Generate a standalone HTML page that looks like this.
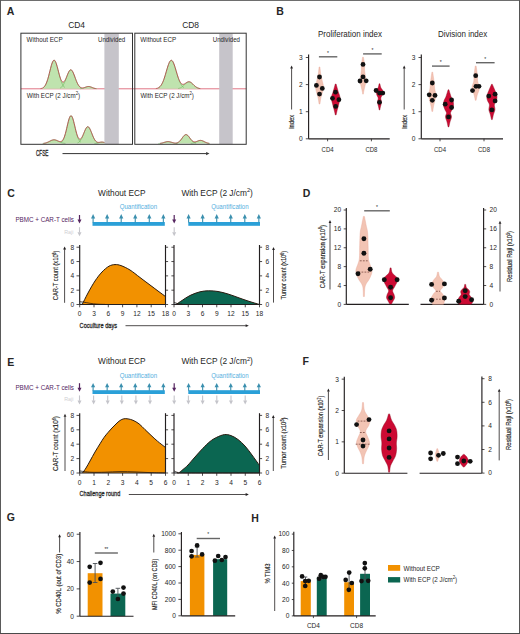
<!DOCTYPE html>
<html><head><meta charset="utf-8"><style>
html,body{margin:0;padding:0;background:#fff;}
svg{display:block;font-family:"Liberation Sans", sans-serif;}
</style></head><body>
<svg width="520" height="634" viewBox="0 0 520 634" fill="#262626">
<rect x="0" y="0" width="520" height="634" fill="#fff"/>
<text x="6.80" y="14.80" font-size="10.5" font-weight="bold" >A</text>
<text x="76.60" y="27.90" font-size="8.8" text-anchor="middle" textLength="16.9" lengthAdjust="spacingAndGlyphs" >CD4</text>
<text x="190.60" y="27.90" font-size="8.8" text-anchor="middle" textLength="16.9" lengthAdjust="spacingAndGlyphs" >CD8</text>
<line x1="20.90" y1="88.80" x2="246.20" y2="88.80" stroke="#e07585" stroke-width="1.0" />
<rect x="104.4" y="33.7" width="14.4" height="110.3" fill="#c6c4ca"/>
<rect x="219.2" y="33.7" width="13.5" height="110.3" fill="#c6c4ca"/>
<path d="M21.50,88.80 L21.50,88.80 L21.91,88.80 L22.33,88.80 L22.74,88.80 L23.16,88.80 L23.57,88.80 L23.99,88.80 L24.40,88.80 L24.82,88.80 L25.23,88.80 L25.64,88.80 L26.06,88.80 L26.47,88.80 L26.89,88.80 L27.30,88.80 L27.72,88.80 L28.13,88.80 L28.55,88.80 L28.96,88.80 L29.38,88.80 L29.79,88.80 L30.20,88.80 L30.62,88.80 L31.03,88.80 L31.45,88.80 L31.86,88.80 L32.28,88.80 L32.69,88.80 L33.11,88.80 L33.52,88.80 L33.94,88.80 L34.35,88.80 L34.76,88.80 L35.18,88.80 L35.59,88.80 L36.01,88.80 L36.42,88.79 L36.84,88.79 L37.25,88.79 L37.67,88.78 L38.08,88.77 L38.49,88.76 L38.91,88.74 L39.32,88.72 L39.74,88.69 L40.15,88.65 L40.57,88.60 L40.98,88.53 L41.40,88.44 L41.81,88.32 L42.23,88.17 L42.64,87.98 L43.05,87.74 L43.47,87.45 L43.88,87.10 L44.30,86.67 L44.71,86.16 L45.13,85.56 L45.54,84.86 L45.96,84.04 L46.37,83.12 L46.78,82.07 L47.20,80.91 L47.61,79.63 L48.03,78.25 L48.44,76.76 L48.86,75.20 L49.27,73.57 L49.69,71.91 L50.10,70.24 L50.52,68.60 L50.93,67.01 L51.34,65.51 L51.76,64.14 L52.17,62.93 L52.59,61.91 L53.00,61.11 L53.42,60.56 L53.83,60.25 L54.25,60.21 L54.66,60.43 L55.07,60.91 L55.49,61.63 L55.90,62.57 L56.32,63.71 L56.73,65.02 L57.15,66.45 L57.56,67.98 L57.98,69.57 L58.39,71.17 L58.81,72.76 L59.22,74.30 L59.63,75.75 L60.05,77.10 L60.46,78.31 L60.88,79.38 L61.29,80.27 L61.71,80.99 L62.12,81.53 L62.54,81.88 L62.95,82.05 L63.36,82.03 L63.78,81.83 L64.19,81.47 L64.61,80.95 L65.02,80.29 L65.44,79.51 L65.85,78.63 L66.27,77.67 L66.68,76.66 L67.09,75.63 L67.51,74.60 L67.92,73.61 L68.34,72.68 L68.75,71.84 L69.17,71.12 L69.58,70.54 L70.00,70.11 L70.41,69.86 L70.83,69.79 L71.24,69.89 L71.65,70.18 L72.07,70.64 L72.48,71.26 L72.90,72.03 L73.31,72.91 L73.73,73.90 L74.14,74.95 L74.56,76.06 L74.97,77.19 L75.38,78.33 L75.80,79.44 L76.21,80.52 L76.63,81.54 L77.04,82.50 L77.46,83.38 L77.87,84.18 L78.29,84.89 L78.70,85.53 L79.12,86.07 L79.53,86.54 L79.94,86.93 L80.36,87.24 L80.77,87.49 L81.19,87.68 L81.60,87.81 L82.02,87.89 L82.43,87.92 L82.85,87.91 L83.26,87.87 L83.67,87.79 L84.09,87.68 L84.50,87.55 L84.92,87.41 L85.33,87.26 L85.75,87.11 L86.16,86.96 L86.58,86.82 L86.99,86.70 L87.41,86.61 L87.82,86.54 L88.23,86.50 L88.65,86.50 L89.06,86.53 L89.48,86.59 L89.89,86.68 L90.31,86.80 L90.72,86.94 L91.14,87.10 L91.55,87.26 L91.97,87.43 L92.38,87.60 L92.79,87.76 L93.21,87.92 L93.62,88.06 L94.04,88.19 L94.45,88.30 L94.87,88.40 L95.28,88.49 L95.70,88.56 L96.11,88.61 L96.52,88.66 L96.94,88.69 L97.35,88.72 L97.77,88.74 L98.18,88.76 L98.60,88.77 L99.01,88.78 L99.43,88.79 L99.84,88.79 L100.26,88.79 L100.67,88.80 L101.08,88.80 L101.50,88.80 L101.91,88.80 L102.33,88.80 L102.74,88.80 L103.16,88.80 L103.57,88.80 L103.99,88.80 L104.40,88.80 L104.40,88.80 Z" fill="#bfe3ae" stroke="none"/>
<path d="M43.05,87.74 L43.47,87.45 L43.88,87.10 L44.30,86.67 L44.71,86.16 L45.13,85.56 L45.54,84.86 L45.96,84.04 L46.37,83.12 L46.78,82.07 L47.20,80.91 L47.61,79.63 L48.03,78.25 L48.44,76.76 L48.86,75.20 L49.27,73.57 L49.69,71.91 L50.10,70.24 L50.52,68.60 L50.93,67.01 L51.34,65.51 L51.76,64.14 L52.17,62.93 L52.59,61.92 L53.00,61.12 L53.42,60.56 L53.83,60.26 L54.25,60.22 L54.66,60.44 L55.07,60.93 L55.49,61.65 L55.90,62.61 L56.32,63.76 L56.73,65.09 L57.15,66.55 L57.56,68.12 L57.98,69.75 L58.39,71.41 L58.81,73.08 L59.22,74.72 L59.63,76.31 L60.05,77.81 L60.46,79.23 L60.88,80.54 L61.29,81.74 L61.71,82.82 L62.12,83.78 L62.54,84.62 L62.95,85.36 L63.36,85.99 L63.78,86.53 L64.19,86.98 L64.61,87.36 L65.02,87.66" fill="none" stroke="#5fb050" stroke-width="0.5"/>
<path d="M60.05,88.08 L60.46,87.88 L60.88,87.63 L61.29,87.33 L61.71,86.98 L62.12,86.55 L62.54,86.06 L62.95,85.49 L63.36,84.84 L63.78,84.10 L64.19,83.29 L64.61,82.39 L65.02,81.42 L65.44,80.39 L65.85,79.31 L66.27,78.19 L66.68,77.06 L67.09,75.92 L67.51,74.82 L67.92,73.77 L68.34,72.80 L68.75,71.93 L69.17,71.18 L69.58,70.58 L70.00,70.14 L70.41,69.88 L70.83,69.80 L71.24,69.90 L71.65,70.19 L72.07,70.65 L72.48,71.27 L72.90,72.03 L73.31,72.91 L73.73,73.90 L74.14,74.95 L74.56,76.06 L74.97,77.19 L75.38,78.33 L75.80,79.44 L76.21,80.52 L76.63,81.55 L77.04,82.51 L77.46,83.39 L77.87,84.20 L78.29,84.92 L78.70,85.56 L79.12,86.12 L79.53,86.61 L79.94,87.02 L80.36,87.37 L80.77,87.67 L81.19,87.91 L81.60,88.10" fill="none" stroke="#5fb050" stroke-width="0.5"/>
<path d="M79.94,88.70 L80.36,88.67 L80.77,88.63 L81.19,88.57 L81.60,88.51 L82.02,88.43 L82.43,88.33 L82.85,88.22 L83.26,88.10 L83.67,87.96 L84.09,87.81 L84.50,87.65 L84.92,87.48 L85.33,87.31 L85.75,87.14 L86.16,86.98 L86.58,86.84 L86.99,86.72 L87.41,86.62 L87.82,86.55 L88.23,86.51 L88.65,86.50 L89.06,86.53 L89.48,86.59 L89.89,86.69 L90.31,86.80 L90.72,86.94 L91.14,87.10 L91.55,87.26 L91.97,87.43 L92.38,87.60 L92.79,87.76 L93.21,87.92 L93.62,88.06 L94.04,88.19 L94.45,88.30 L94.87,88.40 L95.28,88.49 L95.70,88.56 L96.11,88.61 L96.52,88.66 L96.94,88.69" fill="none" stroke="#5fb050" stroke-width="0.5"/>
<path d="M40.57,88.60 L40.98,88.53 L41.40,88.44 L41.81,88.32 L42.23,88.17 L42.64,87.98 L43.05,87.74 L43.47,87.45 L43.88,87.10 L44.30,86.67 L44.71,86.16 L45.13,85.56 L45.54,84.86 L45.96,84.04 L46.37,83.12 L46.78,82.07 L47.20,80.91 L47.61,79.63 L48.03,78.25 L48.44,76.76 L48.86,75.20 L49.27,73.57 L49.69,71.91 L50.10,70.24 L50.52,68.60 L50.93,67.01 L51.34,65.51 L51.76,64.14 L52.17,62.93 L52.59,61.91 L53.00,61.11 L53.42,60.56 L53.83,60.25 L54.25,60.21 L54.66,60.43 L55.07,60.91 L55.49,61.63 L55.90,62.57 L56.32,63.71 L56.73,65.02 L57.15,66.45 L57.56,67.98 L57.98,69.57 L58.39,71.17 L58.81,72.76 L59.22,74.30 L59.63,75.75 L60.05,77.10 L60.46,78.31 L60.88,79.38 L61.29,80.27 L61.71,80.99 L62.12,81.53 L62.54,81.88 L62.95,82.05 L63.36,82.03 L63.78,81.83 L64.19,81.47 L64.61,80.95 L65.02,80.29 L65.44,79.51 L65.85,78.63 L66.27,77.67 L66.68,76.66 L67.09,75.63 L67.51,74.60 L67.92,73.61 L68.34,72.68 L68.75,71.84 L69.17,71.12 L69.58,70.54 L70.00,70.11 L70.41,69.86 L70.83,69.79 L71.24,69.89 L71.65,70.18 L72.07,70.64 L72.48,71.26 L72.90,72.03 L73.31,72.91 L73.73,73.90 L74.14,74.95 L74.56,76.06 L74.97,77.19 L75.38,78.33 L75.80,79.44 L76.21,80.52 L76.63,81.54 L77.04,82.50 L77.46,83.38 L77.87,84.18 L78.29,84.89 L78.70,85.53 L79.12,86.07 L79.53,86.54 L79.94,86.93 L80.36,87.24 L80.77,87.49 L81.19,87.68 L81.60,87.81 L82.02,87.89 L82.43,87.92 L82.85,87.91 L83.26,87.87 L83.67,87.79 L84.09,87.68 L84.50,87.55 L84.92,87.41 L85.33,87.26 L85.75,87.11 L86.16,86.96 L86.58,86.82 L86.99,86.70 L87.41,86.61 L87.82,86.54 L88.23,86.50 L88.65,86.50 L89.06,86.53 L89.48,86.59 L89.89,86.68 L90.31,86.80 L90.72,86.94 L91.14,87.10 L91.55,87.26 L91.97,87.43 L92.38,87.60 L92.79,87.76 L93.21,87.92 L93.62,88.06 L94.04,88.19 L94.45,88.30 L94.87,88.40 L95.28,88.49 L95.70,88.56" fill="none" stroke="#b83a42" stroke-width="0.8"/>
<path d="M21.50,143.60 L21.50,143.60 L21.91,143.60 L22.33,143.60 L22.74,143.60 L23.16,143.60 L23.57,143.60 L23.99,143.60 L24.40,143.60 L24.82,143.60 L25.23,143.60 L25.64,143.60 L26.06,143.60 L26.47,143.60 L26.89,143.60 L27.30,143.60 L27.72,143.60 L28.13,143.60 L28.55,143.60 L28.96,143.60 L29.38,143.60 L29.79,143.60 L30.20,143.60 L30.62,143.60 L31.03,143.60 L31.45,143.60 L31.86,143.60 L32.28,143.60 L32.69,143.60 L33.11,143.60 L33.52,143.60 L33.94,143.60 L34.35,143.60 L34.76,143.60 L35.18,143.60 L35.59,143.60 L36.01,143.60 L36.42,143.60 L36.84,143.60 L37.25,143.60 L37.67,143.60 L38.08,143.59 L38.49,143.59 L38.91,143.59 L39.32,143.59 L39.74,143.58 L40.15,143.57 L40.57,143.56 L40.98,143.55 L41.40,143.54 L41.81,143.52 L42.23,143.49 L42.64,143.46 L43.05,143.43 L43.47,143.38 L43.88,143.33 L44.30,143.27 L44.71,143.19 L45.13,143.10 L45.54,143.00 L45.96,142.89 L46.37,142.76 L46.78,142.61 L47.20,142.45 L47.61,142.27 L48.03,142.09 L48.44,141.89 L48.86,141.68 L49.27,141.47 L49.69,141.25 L50.10,141.03 L50.52,140.82 L50.93,140.62 L51.34,140.43 L51.76,140.26 L52.17,140.11 L52.59,139.99 L53.00,139.90 L53.42,139.83 L53.83,139.80 L54.25,139.80 L54.66,139.84 L55.07,139.90 L55.49,140.00 L55.90,140.12 L56.32,140.27 L56.73,140.43 L57.15,140.61 L57.56,140.79 L57.98,140.97 L58.39,141.14 L58.81,141.30 L59.22,141.43 L59.63,141.53 L60.05,141.58 L60.46,141.58 L60.88,141.52 L61.29,141.38 L61.71,141.15 L62.12,140.82 L62.54,140.37 L62.95,139.81 L63.36,139.10 L63.78,138.25 L64.19,137.26 L64.61,136.11 L65.02,134.82 L65.44,133.38 L65.85,131.83 L66.27,130.17 L66.68,128.43 L67.09,126.65 L67.51,124.87 L67.92,123.13 L68.34,121.48 L68.75,119.95 L69.17,118.61 L69.58,117.48 L70.00,116.60 L70.41,116.01 L70.83,115.72 L71.24,115.75 L71.65,116.08 L72.07,116.72 L72.48,117.64 L72.90,118.80 L73.31,120.17 L73.73,121.72 L74.14,123.38 L74.56,125.12 L74.97,126.88 L75.38,128.63 L75.80,130.33 L76.21,131.93 L76.63,133.41 L77.04,134.75 L77.46,135.92 L77.87,136.92 L78.29,137.73 L78.70,138.36 L79.12,138.80 L79.53,139.05 L79.94,139.13 L80.36,139.04 L80.77,138.78 L81.19,138.37 L81.60,137.82 L82.02,137.14 L82.43,136.35 L82.85,135.47 L83.26,134.52 L83.67,133.53 L84.09,132.51 L84.50,131.50 L84.92,130.51 L85.33,129.59 L85.75,128.76 L86.16,128.04 L86.58,127.46 L86.99,127.04 L87.41,126.78 L87.82,126.70 L88.23,126.80 L88.65,127.08 L89.06,127.52 L89.48,128.12 L89.89,128.86 L90.31,129.71 L90.72,130.66 L91.14,131.66 L91.55,132.71 L91.97,133.77 L92.38,134.82 L92.79,135.83 L93.21,136.80 L93.62,137.71 L94.04,138.55 L94.45,139.30 L94.87,139.96 L95.28,140.54 L95.70,141.03 L96.11,141.43 L96.52,141.75 L96.94,142.00 L97.35,142.17 L97.77,142.29 L98.18,142.35 L98.60,142.37 L99.01,142.35 L99.43,142.31 L99.84,142.26 L100.26,142.20 L100.67,142.14 L101.08,142.10 L101.50,142.07 L101.91,142.07 L102.33,142.09 L102.74,142.13 L103.16,142.20 L103.57,142.29 L103.99,142.39 L104.40,142.51 L104.40,143.60 Z" fill="#bfe3ae" stroke="none"/>
<path d="M42.64,143.46 L43.05,143.43 L43.47,143.38 L43.88,143.33 L44.30,143.27 L44.71,143.19 L45.13,143.10 L45.54,143.00 L45.96,142.89 L46.37,142.76 L46.78,142.61 L47.20,142.45 L47.61,142.27 L48.03,142.09 L48.44,141.89 L48.86,141.68 L49.27,141.47 L49.69,141.25 L50.10,141.03 L50.52,140.82 L50.93,140.62 L51.34,140.43 L51.76,140.26 L52.17,140.11 L52.59,139.99 L53.00,139.90 L53.42,139.83 L53.83,139.80 L54.25,139.81 L54.66,139.84 L55.07,139.91 L55.49,140.01 L55.90,140.14 L56.32,140.29 L56.73,140.47 L57.15,140.66 L57.56,140.86 L57.98,141.07 L58.39,141.29 L58.81,141.51 L59.22,141.72 L59.63,141.93 L60.05,142.12 L60.46,142.31 L60.88,142.48 L61.29,142.64 L61.71,142.78 L62.12,142.91 L62.54,143.02 L62.95,143.12 L63.36,143.21 L63.78,143.28 L64.19,143.34 L64.61,143.39 L65.02,143.44 L65.44,143.47" fill="none" stroke="#5fb050" stroke-width="0.5"/>
<path d="M60.88,142.64 L61.29,142.34 L61.71,141.97 L62.12,141.51 L62.54,140.95 L62.95,140.29 L63.36,139.50 L63.78,138.57 L64.19,137.52 L64.61,136.32 L65.02,134.98 L65.44,133.51 L65.85,131.93 L66.27,130.24 L66.68,128.49 L67.09,126.70 L67.51,124.91 L67.92,123.16 L68.34,121.50 L68.75,119.97 L69.17,118.62 L69.58,117.48 L70.00,116.61 L70.41,116.02 L70.83,115.73 L71.24,115.75 L71.65,116.09 L72.07,116.73 L72.48,117.65 L72.90,118.82 L73.31,120.20 L73.73,121.75 L74.14,123.43 L74.56,125.19 L74.97,126.98 L75.38,128.77 L75.80,130.52 L76.21,132.18 L76.63,133.75 L77.04,135.20 L77.46,136.52 L77.87,137.69 L78.29,138.73 L78.70,139.63 L79.12,140.40 L79.53,141.05 L79.94,141.59 L80.36,142.03 L80.77,142.39" fill="none" stroke="#5fb050" stroke-width="0.5"/>
<path d="M77.46,143.00 L77.87,142.82 L78.29,142.60 L78.70,142.33 L79.12,142.00 L79.53,141.61 L79.94,141.14 L80.36,140.60 L80.77,139.99 L81.19,139.29 L81.60,138.51 L82.02,137.66 L82.43,136.73 L82.85,135.75 L83.26,134.72 L83.67,133.67 L84.09,132.61 L84.50,131.56 L84.92,130.56 L85.33,129.63 L85.75,128.78 L86.16,128.06 L86.58,127.47 L86.99,127.04 L87.41,126.78 L87.82,126.70 L88.23,126.80 L88.65,127.08 L89.06,127.52 L89.48,128.12 L89.89,128.86 L90.31,129.71 L90.72,130.66 L91.14,131.66 L91.55,132.71 L91.97,133.77 L92.38,134.82 L92.79,135.85 L93.21,136.83 L93.62,137.74 L94.04,138.59 L94.45,139.36 L94.87,140.05 L95.28,140.66 L95.70,141.19 L96.11,141.65 L96.52,142.03 L96.94,142.36 L97.35,142.62 L97.77,142.84 L98.18,143.02" fill="none" stroke="#5fb050" stroke-width="0.5"/>
<path d="M94.45,143.54 L94.87,143.51 L95.28,143.48 L95.70,143.44 L96.11,143.38 L96.52,143.32 L96.94,143.24 L97.35,143.15 L97.77,143.05 L98.18,142.93 L98.60,142.81 L99.01,142.69 L99.43,142.56 L99.84,142.44 L100.26,142.33 L100.67,142.24 L101.08,142.17 L101.50,142.12 L101.91,142.10 L102.33,142.11 L102.74,142.15 L103.16,142.21 L103.57,142.29 L103.99,142.40 L104.40,142.51" fill="none" stroke="#5fb050" stroke-width="0.5"/>
<path d="M43.47,143.38 L43.88,143.33 L44.30,143.27 L44.71,143.19 L45.13,143.10 L45.54,143.00 L45.96,142.89 L46.37,142.76 L46.78,142.61 L47.20,142.45 L47.61,142.27 L48.03,142.09 L48.44,141.89 L48.86,141.68 L49.27,141.47 L49.69,141.25 L50.10,141.03 L50.52,140.82 L50.93,140.62 L51.34,140.43 L51.76,140.26 L52.17,140.11 L52.59,139.99 L53.00,139.90 L53.42,139.83 L53.83,139.80 L54.25,139.80 L54.66,139.84 L55.07,139.90 L55.49,140.00 L55.90,140.12 L56.32,140.27 L56.73,140.43 L57.15,140.61 L57.56,140.79 L57.98,140.97 L58.39,141.14 L58.81,141.30 L59.22,141.43 L59.63,141.53 L60.05,141.58 L60.46,141.58 L60.88,141.52 L61.29,141.38 L61.71,141.15 L62.12,140.82 L62.54,140.37 L62.95,139.81 L63.36,139.10 L63.78,138.25 L64.19,137.26 L64.61,136.11 L65.02,134.82 L65.44,133.38 L65.85,131.83 L66.27,130.17 L66.68,128.43 L67.09,126.65 L67.51,124.87 L67.92,123.13 L68.34,121.48 L68.75,119.95 L69.17,118.61 L69.58,117.48 L70.00,116.60 L70.41,116.01 L70.83,115.72 L71.24,115.75 L71.65,116.08 L72.07,116.72 L72.48,117.64 L72.90,118.80 L73.31,120.17 L73.73,121.72 L74.14,123.38 L74.56,125.12 L74.97,126.88 L75.38,128.63 L75.80,130.33 L76.21,131.93 L76.63,133.41 L77.04,134.75 L77.46,135.92 L77.87,136.92 L78.29,137.73 L78.70,138.36 L79.12,138.80 L79.53,139.05 L79.94,139.13 L80.36,139.04 L80.77,138.78 L81.19,138.37 L81.60,137.82 L82.02,137.14 L82.43,136.35 L82.85,135.47 L83.26,134.52 L83.67,133.53 L84.09,132.51 L84.50,131.50 L84.92,130.51 L85.33,129.59 L85.75,128.76 L86.16,128.04 L86.58,127.46 L86.99,127.04 L87.41,126.78 L87.82,126.70 L88.23,126.80 L88.65,127.08 L89.06,127.52 L89.48,128.12 L89.89,128.86 L90.31,129.71 L90.72,130.66 L91.14,131.66 L91.55,132.71 L91.97,133.77 L92.38,134.82 L92.79,135.83 L93.21,136.80 L93.62,137.71 L94.04,138.55 L94.45,139.30 L94.87,139.96 L95.28,140.54 L95.70,141.03 L96.11,141.43 L96.52,141.75 L96.94,142.00 L97.35,142.17 L97.77,142.29 L98.18,142.35 L98.60,142.37 L99.01,142.35 L99.43,142.31 L99.84,142.26 L100.26,142.20 L100.67,142.14 L101.08,142.10 L101.50,142.07 L101.91,142.07 L102.33,142.09 L102.74,142.13 L103.16,142.20 L103.57,142.29 L103.99,142.39 L104.40,142.51" fill="none" stroke="#b83a42" stroke-width="0.8"/>
<path d="M135.30,88.80 L135.30,88.80 L135.72,88.80 L136.14,88.80 L136.56,88.80 L136.98,88.80 L137.40,88.80 L137.82,88.80 L138.24,88.80 L138.66,88.80 L139.08,88.80 L139.50,88.80 L139.91,88.80 L140.33,88.80 L140.75,88.80 L141.17,88.80 L141.59,88.80 L142.01,88.80 L142.43,88.80 L142.85,88.80 L143.27,88.80 L143.69,88.80 L144.11,88.80 L144.53,88.80 L144.95,88.80 L145.37,88.80 L145.79,88.80 L146.21,88.80 L146.63,88.80 L147.05,88.80 L147.47,88.80 L147.89,88.80 L148.30,88.80 L148.72,88.80 L149.14,88.80 L149.56,88.80 L149.98,88.80 L150.40,88.80 L150.82,88.79 L151.24,88.79 L151.66,88.79 L152.08,88.78 L152.50,88.78 L152.92,88.77 L153.34,88.76 L153.76,88.74 L154.18,88.72 L154.60,88.69 L155.02,88.66 L155.44,88.61 L155.86,88.56 L156.28,88.49 L156.69,88.40 L157.11,88.29 L157.53,88.16 L157.95,87.99 L158.37,87.79 L158.79,87.55 L159.21,87.27 L159.63,86.93 L160.05,86.53 L160.47,86.07 L160.89,85.54 L161.31,84.93 L161.73,84.24 L162.15,83.46 L162.57,82.60 L162.99,81.65 L163.41,80.60 L163.83,79.48 L164.25,78.27 L164.66,76.98 L165.08,75.64 L165.50,74.24 L165.92,72.81 L166.34,71.37 L166.76,69.92 L167.18,68.50 L167.60,67.12 L168.02,65.81 L168.44,64.60 L168.86,63.50 L169.28,62.53 L169.70,61.72 L170.12,61.08 L170.54,60.63 L170.96,60.37 L171.38,60.30 L171.80,60.44 L172.22,60.77 L172.64,61.29 L173.06,62.00 L173.47,62.86 L173.89,63.87 L174.31,65.01 L174.73,66.26 L175.15,67.58 L175.57,68.96 L175.99,70.38 L176.41,71.80 L176.83,73.21 L177.25,74.59 L177.67,75.92 L178.09,77.18 L178.51,78.36 L178.93,79.45 L179.35,80.43 L179.77,81.31 L180.19,82.07 L180.61,82.72 L181.03,83.25 L181.44,83.67 L181.86,83.98 L182.28,84.18 L182.70,84.29 L183.12,84.31 L183.54,84.25 L183.96,84.12 L184.38,83.94 L184.80,83.71 L185.22,83.45 L185.64,83.18 L186.06,82.89 L186.48,82.62 L186.90,82.37 L187.32,82.15 L187.74,81.97 L188.16,81.84 L188.58,81.76 L189.00,81.75 L189.42,81.79 L189.83,81.90 L190.25,82.07 L190.67,82.30 L191.09,82.57 L191.51,82.89 L191.93,83.25 L192.35,83.63 L192.77,84.03 L193.19,84.44 L193.61,84.86 L194.03,85.27 L194.45,85.66 L194.87,86.04 L195.29,86.40 L195.71,86.73 L196.13,87.03 L196.55,87.30 L196.97,87.54 L197.39,87.75 L197.81,87.94 L198.22,88.10 L198.64,88.23 L199.06,88.35 L199.48,88.44 L199.90,88.52 L200.32,88.58 L200.74,88.63 L201.16,88.67 L201.58,88.70 L202.00,88.73 L202.42,88.75 L202.84,88.76 L203.26,88.77 L203.68,88.78 L204.10,88.79 L204.52,88.79 L204.94,88.79 L205.36,88.79 L205.78,88.80 L206.20,88.80 L206.62,88.80 L207.03,88.80 L207.45,88.80 L207.87,88.80 L208.29,88.80 L208.71,88.80 L209.13,88.80 L209.55,88.80 L209.97,88.80 L210.39,88.80 L210.81,88.80 L211.23,88.80 L211.65,88.80 L212.07,88.80 L212.49,88.80 L212.91,88.80 L213.33,88.80 L213.75,88.80 L214.17,88.80 L214.59,88.80 L215.00,88.80 L215.42,88.80 L215.84,88.80 L216.26,88.80 L216.68,88.80 L217.10,88.80 L217.52,88.80 L217.94,88.80 L218.36,88.80 L218.78,88.80 L219.20,88.80 L219.20,88.80 Z" fill="#bfe3ae" stroke="none"/>
<path d="M158.37,87.79 L158.79,87.55 L159.21,87.27 L159.63,86.93 L160.05,86.53 L160.47,86.07 L160.89,85.54 L161.31,84.93 L161.73,84.24 L162.15,83.46 L162.57,82.60 L162.99,81.65 L163.41,80.60 L163.83,79.48 L164.25,78.27 L164.66,76.98 L165.08,75.64 L165.50,74.24 L165.92,72.81 L166.34,71.37 L166.76,69.92 L167.18,68.50 L167.60,67.12 L168.02,65.81 L168.44,64.60 L168.86,63.50 L169.28,62.53 L169.70,61.72 L170.12,61.08 L170.54,60.63 L170.96,60.37 L171.38,60.30 L171.80,60.44 L172.22,60.77 L172.64,61.30 L173.06,62.00 L173.47,62.87 L173.89,63.89 L174.31,65.03 L174.73,66.28 L175.15,67.62 L175.57,69.02 L175.99,70.45 L176.41,71.90 L176.83,73.34 L177.25,74.76 L177.67,76.14 L178.09,77.46 L178.51,78.72 L178.93,79.90 L179.35,81.00 L179.77,82.01 L180.19,82.93 L180.61,83.76 L181.03,84.50 L181.44,85.16 L181.86,85.74 L182.28,86.25 L182.70,86.68 L183.12,87.06 L183.54,87.38 L183.96,87.65" fill="none" stroke="#5fb050" stroke-width="0.5"/>
<path d="M178.09,88.52 L178.51,88.44 L178.93,88.35 L179.35,88.24 L179.77,88.10 L180.19,87.94 L180.61,87.76 L181.03,87.55 L181.44,87.30 L181.86,87.03 L182.28,86.73 L182.70,86.40 L183.12,86.05 L183.54,85.67 L183.96,85.28 L184.38,84.87 L184.80,84.45 L185.22,84.04 L185.64,83.64 L186.06,83.26 L186.48,82.91 L186.90,82.59 L187.32,82.32 L187.74,82.10 L188.16,81.93 L188.58,81.83 L189.00,81.80 L189.42,81.83 L189.83,81.93 L190.25,82.09 L190.67,82.31 L191.09,82.58 L191.51,82.90 L191.93,83.25 L192.35,83.63 L192.77,84.04 L193.19,84.45 L193.61,84.86 L194.03,85.27 L194.45,85.66 L194.87,86.04 L195.29,86.40 L195.71,86.73 L196.13,87.03 L196.55,87.30 L196.97,87.54 L197.39,87.75 L197.81,87.94 L198.22,88.10 L198.64,88.23 L199.06,88.35 L199.48,88.44 L199.90,88.52" fill="none" stroke="#5fb050" stroke-width="0.5"/>
<path d="M155.86,88.56 L156.28,88.49 L156.69,88.40 L157.11,88.29 L157.53,88.16 L157.95,87.99 L158.37,87.79 L158.79,87.55 L159.21,87.27 L159.63,86.93 L160.05,86.53 L160.47,86.07 L160.89,85.54 L161.31,84.93 L161.73,84.24 L162.15,83.46 L162.57,82.60 L162.99,81.65 L163.41,80.60 L163.83,79.48 L164.25,78.27 L164.66,76.98 L165.08,75.64 L165.50,74.24 L165.92,72.81 L166.34,71.37 L166.76,69.92 L167.18,68.50 L167.60,67.12 L168.02,65.81 L168.44,64.60 L168.86,63.50 L169.28,62.53 L169.70,61.72 L170.12,61.08 L170.54,60.63 L170.96,60.37 L171.38,60.30 L171.80,60.44 L172.22,60.77 L172.64,61.29 L173.06,62.00 L173.47,62.86 L173.89,63.87 L174.31,65.01 L174.73,66.26 L175.15,67.58 L175.57,68.96 L175.99,70.38 L176.41,71.80 L176.83,73.21 L177.25,74.59 L177.67,75.92 L178.09,77.18 L178.51,78.36 L178.93,79.45 L179.35,80.43 L179.77,81.31 L180.19,82.07 L180.61,82.72 L181.03,83.25 L181.44,83.67 L181.86,83.98 L182.28,84.18 L182.70,84.29 L183.12,84.31 L183.54,84.25 L183.96,84.12 L184.38,83.94 L184.80,83.71 L185.22,83.45 L185.64,83.18 L186.06,82.89 L186.48,82.62 L186.90,82.37 L187.32,82.15 L187.74,81.97 L188.16,81.84 L188.58,81.76 L189.00,81.75 L189.42,81.79 L189.83,81.90 L190.25,82.07 L190.67,82.30 L191.09,82.57 L191.51,82.89 L191.93,83.25 L192.35,83.63 L192.77,84.03 L193.19,84.44 L193.61,84.86 L194.03,85.27 L194.45,85.66 L194.87,86.04 L195.29,86.40 L195.71,86.73 L196.13,87.03 L196.55,87.30 L196.97,87.54 L197.39,87.75 L197.81,87.94 L198.22,88.10 L198.64,88.23 L199.06,88.35 L199.48,88.44 L199.90,88.52 L200.32,88.58" fill="none" stroke="#b83a42" stroke-width="0.8"/>
<path d="M135.30,143.60 L135.30,143.60 L135.72,143.60 L136.14,143.60 L136.56,143.60 L136.98,143.60 L137.40,143.60 L137.82,143.60 L138.24,143.60 L138.66,143.60 L139.08,143.60 L139.50,143.60 L139.91,143.60 L140.33,143.60 L140.75,143.60 L141.17,143.60 L141.59,143.60 L142.01,143.60 L142.43,143.60 L142.85,143.60 L143.27,143.60 L143.69,143.60 L144.11,143.60 L144.53,143.60 L144.95,143.60 L145.37,143.60 L145.79,143.60 L146.21,143.60 L146.63,143.60 L147.05,143.60 L147.47,143.60 L147.89,143.60 L148.30,143.60 L148.72,143.60 L149.14,143.60 L149.56,143.60 L149.98,143.60 L150.40,143.60 L150.82,143.60 L151.24,143.60 L151.66,143.60 L152.08,143.60 L152.50,143.60 L152.92,143.60 L153.34,143.60 L153.76,143.60 L154.18,143.60 L154.60,143.60 L155.02,143.59 L155.44,143.59 L155.86,143.59 L156.28,143.58 L156.69,143.58 L157.11,143.57 L157.53,143.55 L157.95,143.54 L158.37,143.52 L158.79,143.49 L159.21,143.46 L159.63,143.42 L160.05,143.38 L160.47,143.32 L160.89,143.25 L161.31,143.18 L161.73,143.09 L162.15,142.99 L162.57,142.88 L162.99,142.76 L163.41,142.64 L163.83,142.51 L164.25,142.37 L164.66,142.24 L165.08,142.11 L165.50,141.99 L165.92,141.88 L166.34,141.78 L166.76,141.70 L167.18,141.65 L167.60,141.61 L168.02,141.60 L168.44,141.61 L168.86,141.65 L169.28,141.71 L169.70,141.79 L170.12,141.89 L170.54,142.00 L170.96,142.12 L171.38,142.24 L171.80,142.37 L172.22,142.50 L172.64,142.62 L173.06,142.74 L173.47,142.84 L173.89,142.93 L174.31,143.00 L174.73,143.05 L175.15,143.07 L175.57,143.07 L175.99,143.05 L176.41,142.99 L176.83,142.90 L177.25,142.77 L177.67,142.60 L178.09,142.39 L178.51,142.13 L178.93,141.83 L179.35,141.48 L179.77,141.07 L180.19,140.63 L180.61,140.13 L181.03,139.60 L181.44,139.05 L181.86,138.47 L182.28,137.88 L182.70,137.30 L183.12,136.74 L183.54,136.22 L183.96,135.75 L184.38,135.34 L184.80,135.01 L185.22,134.78 L185.64,134.64 L186.06,134.60 L186.48,134.66 L186.90,134.83 L187.32,135.09 L187.74,135.44 L188.16,135.86 L188.58,136.34 L189.00,136.87 L189.42,137.42 L189.83,137.99 L190.25,138.55 L190.67,139.10 L191.09,139.61 L191.51,140.09 L191.93,140.52 L192.35,140.89 L192.77,141.20 L193.19,141.45 L193.61,141.64 L194.03,141.77 L194.45,141.84 L194.87,141.85 L195.29,141.82 L195.71,141.75 L196.13,141.64 L196.55,141.50 L196.97,141.35 L197.39,141.19 L197.81,141.02 L198.22,140.86 L198.64,140.71 L199.06,140.59 L199.48,140.49 L199.90,140.42 L200.32,140.39 L200.74,140.40 L201.16,140.44 L201.58,140.52 L202.00,140.64 L202.42,140.78 L202.84,140.95 L203.26,141.14 L203.68,141.34 L204.10,141.56 L204.52,141.77 L204.94,141.98 L205.36,142.19 L205.78,142.38 L206.20,142.56 L206.62,142.72 L207.03,142.87 L207.45,143.00 L207.87,143.11 L208.29,143.21 L208.71,143.29 L209.13,143.36 L209.55,143.41 L209.97,143.46 L210.39,143.49 L210.81,143.52 L211.23,143.54 L211.65,143.56 L212.07,143.57 L212.49,143.58 L212.91,143.58 L213.33,143.59 L213.75,143.59 L214.17,143.60 L214.59,143.60 L215.00,143.60 L215.42,143.60 L215.84,143.60 L216.26,143.60 L216.68,143.60 L217.10,143.60 L217.52,143.60 L217.94,143.60 L218.36,143.60 L218.78,143.60 L219.20,143.60 L219.20,143.60 Z" fill="#bfe3ae" stroke="none"/>
<path d="M158.37,143.52 L158.79,143.49 L159.21,143.46 L159.63,143.42 L160.05,143.38 L160.47,143.32 L160.89,143.25 L161.31,143.18 L161.73,143.09 L162.15,142.99 L162.57,142.88 L162.99,142.76 L163.41,142.64 L163.83,142.51 L164.25,142.37 L164.66,142.24 L165.08,142.11 L165.50,141.99 L165.92,141.88 L166.34,141.78 L166.76,141.70 L167.18,141.65 L167.60,141.61 L168.02,141.60 L168.44,141.61 L168.86,141.65 L169.28,141.71 L169.70,141.79 L170.12,141.89 L170.54,142.00 L170.96,142.12 L171.38,142.25 L171.80,142.39 L172.22,142.52 L172.64,142.65 L173.06,142.77 L173.47,142.89 L173.89,143.00 L174.31,143.10 L174.73,143.18 L175.15,143.26 L175.57,143.33 L175.99,143.38 L176.41,143.43 L176.83,143.47 L177.25,143.50 L177.67,143.52" fill="none" stroke="#5fb050" stroke-width="0.5"/>
<path d="M175.99,143.27 L176.41,143.16 L176.83,143.03 L177.25,142.87 L177.67,142.68 L178.09,142.45 L178.51,142.18 L178.93,141.86 L179.35,141.50 L179.77,141.09 L180.19,140.64 L180.61,140.14 L181.03,139.61 L181.44,139.05 L181.86,138.47 L182.28,137.88 L182.70,137.30 L183.12,136.74 L183.54,136.22 L183.96,135.75 L184.38,135.34 L184.80,135.02 L185.22,134.78 L185.64,134.64 L186.06,134.60 L186.48,134.67 L186.90,134.84 L187.32,135.10 L187.74,135.45 L188.16,135.88 L188.58,136.36 L189.00,136.90 L189.42,137.47 L189.83,138.05 L190.25,138.64 L190.67,139.21 L191.09,139.76 L191.51,140.29 L191.93,140.77 L192.35,141.21 L192.77,141.61 L193.19,141.96 L193.61,142.26 L194.03,142.52 L194.45,142.74 L194.87,142.92 L195.29,143.07 L195.71,143.19 L196.13,143.29" fill="none" stroke="#5fb050" stroke-width="0.5"/>
<path d="M190.67,143.49 L191.09,143.45 L191.51,143.40 L191.93,143.35 L192.35,143.28 L192.77,143.20 L193.19,143.10 L193.61,142.98 L194.03,142.85 L194.45,142.70 L194.87,142.53 L195.29,142.35 L195.71,142.16 L196.13,141.95 L196.55,141.74 L196.97,141.52 L197.39,141.31 L197.81,141.11 L198.22,140.93 L198.64,140.76 L199.06,140.62 L199.48,140.51 L199.90,140.44 L200.32,140.40 L200.74,140.41 L201.16,140.45 L201.58,140.53 L202.00,140.64 L202.42,140.78 L202.84,140.95 L203.26,141.14 L203.68,141.34 L204.10,141.56 L204.52,141.77 L204.94,141.98 L205.36,142.19 L205.78,142.38 L206.20,142.56 L206.62,142.72 L207.03,142.87 L207.45,143.00 L207.87,143.11 L208.29,143.21 L208.71,143.29 L209.13,143.36 L209.55,143.41 L209.97,143.46" fill="none" stroke="#5fb050" stroke-width="0.5"/>
<path d="M160.05,143.38 L160.47,143.32 L160.89,143.25 L161.31,143.18 L161.73,143.09 L162.15,142.99 L162.57,142.88 L162.99,142.76 L163.41,142.64 L163.83,142.51 L164.25,142.37 L164.66,142.24 L165.08,142.11 L165.50,141.99 L165.92,141.88 L166.34,141.78 L166.76,141.70 L167.18,141.65 L167.60,141.61 L168.02,141.60 L168.44,141.61 L168.86,141.65 L169.28,141.71 L169.70,141.79 L170.12,141.89 L170.54,142.00 L170.96,142.12 L171.38,142.24 L171.80,142.37 L172.22,142.50 L172.64,142.62 L173.06,142.74 L173.47,142.84 L173.89,142.93 L174.31,143.00 L174.73,143.05 L175.15,143.07 L175.57,143.07 L175.99,143.05 L176.41,142.99 L176.83,142.90 L177.25,142.77 L177.67,142.60 L178.09,142.39 L178.51,142.13 L178.93,141.83 L179.35,141.48 L179.77,141.07 L180.19,140.63 L180.61,140.13 L181.03,139.60 L181.44,139.05 L181.86,138.47 L182.28,137.88 L182.70,137.30 L183.12,136.74 L183.54,136.22 L183.96,135.75 L184.38,135.34 L184.80,135.01 L185.22,134.78 L185.64,134.64 L186.06,134.60 L186.48,134.66 L186.90,134.83 L187.32,135.09 L187.74,135.44 L188.16,135.86 L188.58,136.34 L189.00,136.87 L189.42,137.42 L189.83,137.99 L190.25,138.55 L190.67,139.10 L191.09,139.61 L191.51,140.09 L191.93,140.52 L192.35,140.89 L192.77,141.20 L193.19,141.45 L193.61,141.64 L194.03,141.77 L194.45,141.84 L194.87,141.85 L195.29,141.82 L195.71,141.75 L196.13,141.64 L196.55,141.50 L196.97,141.35 L197.39,141.19 L197.81,141.02 L198.22,140.86 L198.64,140.71 L199.06,140.59 L199.48,140.49 L199.90,140.42 L200.32,140.39 L200.74,140.40 L201.16,140.44 L201.58,140.52 L202.00,140.64 L202.42,140.78 L202.84,140.95 L203.26,141.14 L203.68,141.34 L204.10,141.56 L204.52,141.77 L204.94,141.98 L205.36,142.19 L205.78,142.38 L206.20,142.56 L206.62,142.72 L207.03,142.87 L207.45,143.00 L207.87,143.11 L208.29,143.21 L208.71,143.29 L209.13,143.36" fill="none" stroke="#b83a42" stroke-width="0.8"/>
<rect x="20.9" y="33.2" width="111.6" height="111.1" fill="none" stroke="#333" stroke-width="1"/>
<rect x="134.8" y="33.2" width="111.4" height="111.1" fill="none" stroke="#333" stroke-width="1"/>
<text x="26.60" y="41.60" font-size="6.9" textLength="36.0" lengthAdjust="spacingAndGlyphs" >Without ECP</text>
<text x="98.00" y="41.60" font-size="6.8" textLength="27.2" lengthAdjust="spacingAndGlyphs" >Undivided</text>
<text x="140.30" y="41.70" font-size="6.9" textLength="36.0" lengthAdjust="spacingAndGlyphs" >Without ECP</text>
<text x="212.80" y="41.70" font-size="6.8" textLength="27.2" lengthAdjust="spacingAndGlyphs" >Undivided</text>
<text x="26.70" y="98.20" font-size="6.9" textLength="53.4" lengthAdjust="spacingAndGlyphs" >With ECP (2 J/cm<tspan dy="-2.76" font-size="4.69">2</tspan><tspan dy="2.76">)</tspan></text>
<text x="140.50" y="98.20" font-size="6.9" textLength="53.4" lengthAdjust="spacingAndGlyphs" >With ECP (2 J/cm<tspan dy="-2.76" font-size="4.69">2</tspan><tspan dy="2.76">)</tspan></text>
<text x="35.90" y="156.00" font-size="8.6" textLength="12.6" lengthAdjust="spacingAndGlyphs" stroke="#262626" stroke-width="0.3">CFSE</text>
<line x1="62.50" y1="153.60" x2="206.40" y2="153.60" stroke="#333" stroke-width="1.0" />
<polygon points="209.50,153.60 206.10,155.20 206.10,152.00" fill="#333"/>
<text x="276.20" y="14.50" font-size="10.5" font-weight="bold" >B</text>
<text x="318.00" y="36.60" font-size="8.6" textLength="64.0" lengthAdjust="spacingAndGlyphs" >Proliferation index</text>
<text x="438.00" y="36.70" font-size="8.6" textLength="49.2" lengthAdjust="spacingAndGlyphs" >Division index</text>
<line x1="308.60" y1="54.60" x2="308.60" y2="138.80" stroke="#231f20" stroke-width="1.15" />
<line x1="305.80" y1="57.50" x2="308.60" y2="57.50" stroke="#231f20" stroke-width="0.8" />
<text x="302.60" y="59.88" font-size="6.6" text-anchor="end" >3</text>
<line x1="305.80" y1="84.60" x2="308.60" y2="84.60" stroke="#231f20" stroke-width="0.8" />
<text x="302.60" y="86.98" font-size="6.6" text-anchor="end" >2</text>
<line x1="305.80" y1="111.70" x2="308.60" y2="111.70" stroke="#231f20" stroke-width="0.8" />
<text x="302.60" y="114.08" font-size="6.6" text-anchor="end" >1</text>
<line x1="305.80" y1="138.80" x2="308.60" y2="138.80" stroke="#231f20" stroke-width="0.8" />
<text x="302.60" y="141.18" font-size="6.6" text-anchor="end" >0</text>
<line x1="308.60" y1="138.80" x2="389.70" y2="138.80" stroke="#231f20" stroke-width="1.15" />
<line x1="327.60" y1="138.80" x2="327.60" y2="141.30" stroke="#231f20" stroke-width="0.8" />
<line x1="371.40" y1="138.80" x2="371.40" y2="141.30" stroke="#231f20" stroke-width="0.8" />
<text x="327.60" y="151.60" font-size="6.6" text-anchor="middle" textLength="12.0" lengthAdjust="spacingAndGlyphs" >CD4</text>
<text x="371.40" y="151.60" font-size="6.6" text-anchor="middle" textLength="12.0" lengthAdjust="spacingAndGlyphs" >CD8</text>
<text x="294.20" y="129.00" font-size="7.4" textLength="14.3" lengthAdjust="spacingAndGlyphs" transform="rotate(-90 294.20 129.00)" stroke="#231f20" stroke-width="0.15">Index</text>
<line x1="291.60" y1="109.50" x2="291.60" y2="68.20" stroke="#231f20" stroke-width="0.8" />
<polygon points="291.60,65.50 293.00,68.50 290.20,68.50" fill="#231f20"/>
<path d="M319.90,67.00 L319.96,67.54 L320.03,68.26 L320.11,69.12 L320.21,70.08 L320.31,71.08 L320.43,72.10 L320.56,73.09 L320.70,74.00 L320.86,74.87 L321.03,75.74 L321.22,76.61 L321.43,77.48 L321.63,78.34 L321.83,79.18 L322.02,80.00 L322.20,80.80 L322.38,81.57 L322.57,82.30 L322.76,83.02 L322.95,83.72 L323.12,84.41 L323.25,85.10 L323.35,85.80 L323.40,86.50 L323.39,87.21 L323.34,87.93 L323.25,88.64 L323.12,89.36 L322.98,90.07 L322.82,90.78 L322.66,91.49 L322.50,92.20 L322.33,92.90 L322.14,93.59 L321.92,94.28 L321.71,94.97 L321.49,95.66 L321.27,96.36 L321.08,97.07 L320.90,97.80 L320.74,98.59 L320.58,99.45 L320.44,100.35 L320.30,101.25 L320.18,102.10 L320.07,102.87 L319.97,103.52 L319.90,104.00 L319.10,104.00 L319.03,103.52 L318.93,102.87 L318.82,102.10 L318.70,101.25 L318.56,100.35 L318.42,99.45 L318.26,98.59 L318.10,97.80 L317.92,97.07 L317.73,96.36 L317.51,95.66 L317.29,94.97 L317.08,94.28 L316.86,93.59 L316.67,92.90 L316.50,92.20 L316.34,91.49 L316.18,90.78 L316.02,90.07 L315.88,89.36 L315.75,88.64 L315.66,87.93 L315.61,87.21 L315.60,86.50 L315.65,85.80 L315.75,85.10 L315.88,84.41 L316.05,83.72 L316.24,83.02 L316.43,82.30 L316.62,81.57 L316.80,80.80 L316.98,80.00 L317.17,79.18 L317.37,78.34 L317.57,77.48 L317.78,76.61 L317.97,75.74 L318.14,74.87 L318.30,74.00 L318.44,73.09 L318.57,72.10 L318.69,71.08 L318.79,70.08 L318.89,69.12 L318.97,68.26 L319.04,67.54 L319.10,67.00 Z" fill="#f2c4b4" stroke="#e8a898" stroke-width="0.45" stroke-linejoin="round"/>
<path d="M336.10,84.00 L336.25,84.56 L336.46,85.31 L336.71,86.20 L336.98,87.19 L337.27,88.23 L337.56,89.27 L337.84,90.28 L338.10,91.20 L338.36,92.05 L338.66,92.89 L338.96,93.71 L339.26,94.53 L339.53,95.34 L339.75,96.16 L339.92,96.97 L340.00,97.80 L339.99,98.64 L339.90,99.49 L339.76,100.35 L339.56,101.21 L339.34,102.06 L339.11,102.90 L338.89,103.71 L338.70,104.50 L338.52,105.26 L338.33,106.00 L338.13,106.72 L337.94,107.42 L337.74,108.11 L337.55,108.78 L337.37,109.45 L337.20,110.10 L337.04,110.77 L336.87,111.47 L336.71,112.17 L336.56,112.85 L336.41,113.49 L336.29,114.06 L336.18,114.54 L336.10,114.90 L335.30,114.90 L335.22,114.54 L335.11,114.06 L334.99,113.49 L334.84,112.85 L334.69,112.17 L334.53,111.47 L334.36,110.77 L334.20,110.10 L334.03,109.45 L333.85,108.78 L333.66,108.11 L333.46,107.42 L333.27,106.72 L333.07,106.00 L332.88,105.26 L332.70,104.50 L332.51,103.71 L332.29,102.90 L332.06,102.06 L331.84,101.21 L331.64,100.35 L331.50,99.49 L331.41,98.64 L331.40,97.80 L331.48,96.97 L331.65,96.16 L331.87,95.34 L332.14,94.53 L332.44,93.71 L332.74,92.89 L333.04,92.05 L333.30,91.20 L333.56,90.28 L333.84,89.27 L334.13,88.23 L334.42,87.19 L334.69,86.20 L334.94,85.31 L335.15,84.56 L335.30,84.00 Z" fill="#cc0a33" stroke="#8e0b22" stroke-width="0.45" stroke-linejoin="round"/>
<path d="M363.40,57.20 L363.49,57.76 L363.62,58.52 L363.78,59.42 L363.94,60.42 L364.11,61.46 L364.27,62.51 L364.40,63.50 L364.50,64.40 L364.55,65.21 L364.58,66.00 L364.58,66.76 L364.56,67.51 L364.55,68.25 L364.54,68.99 L364.56,69.74 L364.60,70.50 L364.68,71.28 L364.77,72.09 L364.89,72.91 L365.01,73.73 L365.14,74.52 L365.27,75.30 L365.39,76.02 L365.50,76.70 L365.61,77.31 L365.73,77.85 L365.86,78.35 L365.98,78.82 L366.09,79.28 L366.16,79.75 L366.20,80.25 L366.20,80.80 L366.14,81.39 L366.03,82.00 L365.89,82.64 L365.72,83.29 L365.53,83.94 L365.34,84.60 L365.16,85.26 L365.00,85.90 L364.85,86.55 L364.68,87.22 L364.52,87.90 L364.36,88.58 L364.20,89.23 L364.05,89.87 L363.92,90.46 L363.80,91.00 L363.70,91.50 L363.61,91.99 L363.54,92.45 L363.48,92.87 L363.42,93.25 L363.37,93.59 L363.33,93.87 L363.30,94.10 L362.70,94.10 L362.67,93.87 L362.63,93.59 L362.58,93.25 L362.52,92.87 L362.46,92.45 L362.39,91.99 L362.30,91.50 L362.20,91.00 L362.08,90.46 L361.95,89.87 L361.80,89.23 L361.64,88.58 L361.48,87.90 L361.32,87.22 L361.15,86.55 L361.00,85.90 L360.84,85.26 L360.66,84.60 L360.47,83.94 L360.28,83.29 L360.11,82.64 L359.97,82.00 L359.86,81.39 L359.80,80.80 L359.80,80.25 L359.84,79.75 L359.91,79.28 L360.02,78.82 L360.14,78.35 L360.27,77.85 L360.39,77.31 L360.50,76.70 L360.61,76.02 L360.73,75.30 L360.86,74.52 L360.99,73.73 L361.11,72.91 L361.23,72.09 L361.32,71.28 L361.40,70.50 L361.44,69.74 L361.46,68.99 L361.45,68.25 L361.44,67.51 L361.42,66.76 L361.42,66.00 L361.45,65.21 L361.50,64.40 L361.60,63.50 L361.73,62.51 L361.89,61.46 L362.06,60.42 L362.22,59.42 L362.38,58.52 L362.51,57.76 L362.60,57.20 Z" fill="#f2c4b4" stroke="#e8a898" stroke-width="0.45" stroke-linejoin="round"/>
<path d="M379.90,83.80 L379.96,84.09 L380.03,84.47 L380.12,84.93 L380.22,85.43 L380.34,85.96 L380.47,86.50 L380.62,87.02 L380.80,87.50 L381.02,87.94 L381.31,88.38 L381.63,88.80 L381.96,89.22 L382.27,89.65 L382.55,90.09 L382.77,90.54 L382.90,91.00 L382.94,91.49 L382.92,92.01 L382.83,92.54 L382.71,93.08 L382.56,93.61 L382.40,94.13 L382.24,94.63 L382.10,95.10 L381.95,95.53 L381.77,95.92 L381.57,96.29 L381.36,96.65 L381.17,97.01 L381.00,97.38 L380.88,97.77 L380.80,98.20 L380.80,98.66 L380.86,99.13 L380.96,99.62 L381.09,100.12 L381.22,100.65 L381.32,101.18 L381.39,101.73 L381.40,102.30 L381.34,102.91 L381.23,103.56 L381.09,104.25 L380.92,104.94 L380.74,105.63 L380.57,106.28 L380.42,106.88 L380.30,107.40 L380.21,107.86 L380.12,108.29 L380.05,108.67 L379.98,109.02 L379.92,109.33 L379.88,109.59 L379.83,109.82 L379.80,110.00 L379.20,110.00 L379.17,109.82 L379.12,109.59 L379.08,109.33 L379.02,109.02 L378.95,108.67 L378.88,108.29 L378.79,107.86 L378.70,107.40 L378.58,106.88 L378.43,106.28 L378.26,105.63 L378.08,104.94 L377.91,104.25 L377.77,103.56 L377.66,102.91 L377.60,102.30 L377.61,101.73 L377.68,101.18 L377.78,100.65 L377.91,100.12 L378.04,99.62 L378.14,99.13 L378.20,98.66 L378.20,98.20 L378.12,97.77 L378.00,97.38 L377.83,97.01 L377.64,96.65 L377.43,96.29 L377.23,95.92 L377.05,95.53 L376.90,95.10 L376.76,94.63 L376.60,94.13 L376.44,93.61 L376.29,93.08 L376.17,92.54 L376.08,92.01 L376.06,91.49 L376.10,91.00 L376.23,90.54 L376.45,90.09 L376.73,89.65 L377.04,89.22 L377.37,88.80 L377.69,88.38 L377.98,87.94 L378.20,87.50 L378.38,87.02 L378.53,86.50 L378.66,85.96 L378.78,85.43 L378.88,84.93 L378.97,84.47 L379.04,84.09 L379.10,83.80 Z" fill="#cc0a33" stroke="#8e0b22" stroke-width="0.45" stroke-linejoin="round"/>
<circle cx="319.50" cy="77.00" r="2.4" fill="#111"/>
<circle cx="316.40" cy="85.40" r="2.4" fill="#111"/>
<circle cx="322.30" cy="88.40" r="2.4" fill="#111"/>
<circle cx="319.50" cy="94.10" r="2.4" fill="#111"/>
<circle cx="335.50" cy="92.20" r="2.4" fill="#111"/>
<circle cx="332.50" cy="98.30" r="2.4" fill="#111"/>
<circle cx="338.90" cy="99.70" r="2.4" fill="#111"/>
<circle cx="335.70" cy="106.40" r="2.4" fill="#111"/>
<circle cx="363.00" cy="64.40" r="2.4" fill="#111"/>
<circle cx="363.00" cy="76.90" r="2.4" fill="#111"/>
<circle cx="360.00" cy="81.00" r="2.4" fill="#111"/>
<circle cx="366.20" cy="80.80" r="2.4" fill="#111"/>
<circle cx="376.10" cy="90.50" r="2.4" fill="#111"/>
<circle cx="379.50" cy="93.10" r="2.4" fill="#111"/>
<circle cx="382.80" cy="93.10" r="2.4" fill="#111"/>
<circle cx="379.50" cy="102.30" r="2.4" fill="#111"/>
<line x1="318.90" y1="56.80" x2="337.30" y2="56.80" stroke="#666" stroke-width="1.4" />
<text x="328.10" y="54.60" font-size="5" text-anchor="middle" >*</text>
<line x1="363.10" y1="53.90" x2="381.70" y2="53.90" stroke="#666" stroke-width="1.4" />
<text x="372.40" y="51.70" font-size="5" text-anchor="middle" >*</text>
<line x1="421.30" y1="54.60" x2="421.30" y2="138.80" stroke="#231f20" stroke-width="1.15" />
<line x1="418.50" y1="57.50" x2="421.30" y2="57.50" stroke="#231f20" stroke-width="0.8" />
<text x="415.30" y="59.88" font-size="6.6" text-anchor="end" >3</text>
<line x1="418.50" y1="84.60" x2="421.30" y2="84.60" stroke="#231f20" stroke-width="0.8" />
<text x="415.30" y="86.98" font-size="6.6" text-anchor="end" >2</text>
<line x1="418.50" y1="111.70" x2="421.30" y2="111.70" stroke="#231f20" stroke-width="0.8" />
<text x="415.30" y="114.08" font-size="6.6" text-anchor="end" >1</text>
<line x1="418.50" y1="138.80" x2="421.30" y2="138.80" stroke="#231f20" stroke-width="0.8" />
<text x="415.30" y="141.18" font-size="6.6" text-anchor="end" >0</text>
<line x1="421.30" y1="138.80" x2="503.00" y2="138.80" stroke="#231f20" stroke-width="1.15" />
<line x1="440.00" y1="138.80" x2="440.00" y2="141.30" stroke="#231f20" stroke-width="0.8" />
<line x1="484.00" y1="138.80" x2="484.00" y2="141.30" stroke="#231f20" stroke-width="0.8" />
<text x="440.00" y="151.60" font-size="6.6" text-anchor="middle" textLength="12.0" lengthAdjust="spacingAndGlyphs" >CD4</text>
<text x="484.00" y="151.60" font-size="6.6" text-anchor="middle" textLength="12.0" lengthAdjust="spacingAndGlyphs" >CD8</text>
<text x="406.60" y="129.00" font-size="7.4" textLength="14.3" lengthAdjust="spacingAndGlyphs" transform="rotate(-90 406.60 129.00)" stroke="#231f20" stroke-width="0.15">Index</text>
<line x1="404.20" y1="109.50" x2="404.20" y2="68.20" stroke="#231f20" stroke-width="0.8" />
<polygon points="404.20,65.50 405.60,68.50 402.80,68.50" fill="#231f20"/>
<path d="M432.70,72.20 L432.75,72.57 L432.83,73.06 L432.91,73.64 L433.01,74.28 L433.11,74.97 L433.21,75.67 L433.31,76.35 L433.40,77.00 L433.49,77.61 L433.58,78.22 L433.67,78.82 L433.76,79.44 L433.84,80.06 L433.93,80.71 L434.02,81.39 L434.10,82.10 L434.18,82.85 L434.24,83.64 L434.31,84.46 L434.37,85.30 L434.44,86.15 L434.51,87.01 L434.60,87.86 L434.70,88.70 L434.84,89.54 L435.01,90.40 L435.21,91.26 L435.41,92.12 L435.59,92.97 L435.75,93.81 L435.86,94.62 L435.90,95.40 L435.87,96.14 L435.79,96.86 L435.66,97.55 L435.51,98.23 L435.33,98.89 L435.14,99.55 L434.96,100.22 L434.80,100.90 L434.64,101.59 L434.48,102.29 L434.31,102.98 L434.13,103.68 L433.96,104.37 L433.79,105.06 L433.64,105.74 L433.50,106.40 L433.37,107.08 L433.25,107.80 L433.13,108.53 L433.02,109.24 L432.92,109.91 L432.83,110.51 L432.76,111.02 L432.70,111.40 L431.90,111.40 L431.84,111.02 L431.77,110.51 L431.68,109.91 L431.58,109.24 L431.47,108.53 L431.35,107.80 L431.23,107.08 L431.10,106.40 L430.96,105.74 L430.81,105.06 L430.64,104.37 L430.47,103.68 L430.29,102.98 L430.12,102.29 L429.96,101.59 L429.80,100.90 L429.64,100.22 L429.46,99.55 L429.27,98.89 L429.09,98.23 L428.94,97.55 L428.81,96.86 L428.73,96.14 L428.70,95.40 L428.74,94.62 L428.85,93.81 L429.01,92.97 L429.19,92.12 L429.39,91.26 L429.59,90.40 L429.76,89.54 L429.90,88.70 L430.00,87.86 L430.09,87.01 L430.16,86.15 L430.23,85.30 L430.29,84.46 L430.36,83.64 L430.42,82.85 L430.50,82.10 L430.58,81.39 L430.67,80.71 L430.76,80.06 L430.84,79.44 L430.93,78.82 L431.02,78.22 L431.11,77.61 L431.20,77.00 L431.29,76.35 L431.39,75.67 L431.49,74.97 L431.59,74.28 L431.69,73.64 L431.77,73.06 L431.85,72.57 L431.90,72.20 Z" fill="#f2c4b4" stroke="#e8a898" stroke-width="0.45" stroke-linejoin="round"/>
<path d="M448.90,89.80 L449.06,90.33 L449.28,91.06 L449.54,91.92 L449.82,92.88 L450.13,93.86 L450.43,94.83 L450.73,95.73 L451.00,96.50 L451.27,97.16 L451.54,97.76 L451.82,98.32 L452.10,98.84 L452.36,99.35 L452.61,99.85 L452.82,100.37 L453.00,100.90 L453.15,101.45 L453.28,102.00 L453.39,102.55 L453.47,103.10 L453.52,103.65 L453.55,104.20 L453.54,104.75 L453.50,105.30 L453.41,105.86 L453.27,106.43 L453.08,107.00 L452.88,107.57 L452.65,108.13 L452.42,108.68 L452.20,109.20 L452.00,109.70 L451.80,110.16 L451.57,110.59 L451.33,110.99 L451.09,111.38 L450.88,111.77 L450.70,112.16 L450.57,112.57 L450.50,113.00 L450.52,113.45 L450.63,113.91 L450.80,114.37 L451.00,114.84 L451.20,115.33 L451.37,115.83 L451.48,116.36 L451.50,116.90 L451.43,117.47 L451.29,118.07 L451.10,118.69 L450.88,119.33 L450.64,119.98 L450.41,120.62 L450.19,121.27 L450.00,121.90 L449.84,122.56 L449.67,123.27 L449.51,123.99 L449.36,124.71 L449.21,125.39 L449.09,126.00 L448.98,126.51 L448.90,126.90 L448.10,126.90 L448.02,126.51 L447.91,126.00 L447.79,125.39 L447.64,124.71 L447.49,123.99 L447.33,123.27 L447.16,122.56 L447.00,121.90 L446.81,121.27 L446.59,120.62 L446.36,119.98 L446.12,119.33 L445.90,118.69 L445.71,118.07 L445.57,117.47 L445.50,116.90 L445.52,116.36 L445.63,115.83 L445.80,115.33 L446.00,114.84 L446.20,114.37 L446.37,113.91 L446.48,113.45 L446.50,113.00 L446.43,112.57 L446.30,112.16 L446.12,111.77 L445.91,111.38 L445.67,110.99 L445.43,110.59 L445.20,110.16 L445.00,109.70 L444.80,109.20 L444.58,108.68 L444.35,108.13 L444.12,107.57 L443.92,107.00 L443.73,106.43 L443.59,105.86 L443.50,105.30 L443.46,104.75 L443.45,104.20 L443.48,103.65 L443.53,103.10 L443.61,102.55 L443.72,102.00 L443.85,101.45 L444.00,100.90 L444.18,100.37 L444.39,99.85 L444.64,99.35 L444.90,98.84 L445.18,98.32 L445.46,97.76 L445.73,97.16 L446.00,96.50 L446.27,95.73 L446.57,94.83 L446.87,93.86 L447.18,92.88 L447.46,91.92 L447.72,91.06 L447.94,90.33 L448.10,89.80 Z" fill="#cc0a33" stroke="#8e0b22" stroke-width="0.45" stroke-linejoin="round"/>
<path d="M476.10,66.00 L476.15,66.30 L476.21,66.69 L476.28,67.15 L476.36,67.66 L476.45,68.22 L476.54,68.81 L476.62,69.41 L476.70,70.00 L476.78,70.60 L476.85,71.24 L476.93,71.89 L477.01,72.57 L477.09,73.26 L477.16,73.97 L477.23,74.68 L477.30,75.40 L477.35,76.14 L477.39,76.90 L477.41,77.68 L477.44,78.48 L477.47,79.26 L477.52,80.04 L477.59,80.79 L477.70,81.50 L477.86,82.19 L478.06,82.85 L478.30,83.50 L478.55,84.14 L478.79,84.75 L479.01,85.35 L479.19,85.94 L479.30,86.50 L479.35,87.04 L479.37,87.54 L479.35,88.02 L479.30,88.49 L479.23,88.95 L479.13,89.42 L479.02,89.90 L478.90,90.40 L478.75,90.92 L478.57,91.44 L478.37,91.97 L478.15,92.50 L477.92,93.05 L477.70,93.61 L477.49,94.19 L477.30,94.80 L477.12,95.47 L476.94,96.23 L476.77,97.02 L476.60,97.83 L476.44,98.59 L476.31,99.29 L476.19,99.87 L476.10,100.30 L475.30,100.30 L475.21,99.87 L475.09,99.29 L474.96,98.59 L474.80,97.83 L474.63,97.02 L474.46,96.23 L474.28,95.47 L474.10,94.80 L473.91,94.19 L473.70,93.61 L473.48,93.05 L473.25,92.50 L473.03,91.97 L472.82,91.44 L472.65,90.92 L472.50,90.40 L472.38,89.90 L472.27,89.42 L472.17,88.95 L472.10,88.49 L472.05,88.02 L472.03,87.54 L472.05,87.04 L472.10,86.50 L472.21,85.94 L472.39,85.35 L472.61,84.75 L472.85,84.14 L473.10,83.50 L473.34,82.85 L473.54,82.19 L473.70,81.50 L473.81,80.79 L473.88,80.04 L473.93,79.26 L473.96,78.48 L473.99,77.68 L474.01,76.90 L474.05,76.14 L474.10,75.40 L474.17,74.68 L474.24,73.97 L474.31,73.26 L474.39,72.57 L474.47,71.89 L474.55,71.24 L474.62,70.60 L474.70,70.00 L474.78,69.41 L474.86,68.81 L474.95,68.22 L475.04,67.66 L475.12,67.15 L475.19,66.69 L475.25,66.30 L475.30,66.00 Z" fill="#f2c4b4" stroke="#e8a898" stroke-width="0.45" stroke-linejoin="round"/>
<path d="M492.30,84.30 L492.50,84.77 L492.78,85.41 L493.11,86.17 L493.47,87.01 L493.85,87.89 L494.23,88.77 L494.59,89.62 L494.90,90.40 L495.20,91.12 L495.50,91.84 L495.80,92.55 L496.09,93.26 L496.36,93.94 L496.59,94.62 L496.77,95.27 L496.90,95.90 L496.97,96.50 L496.99,97.08 L496.96,97.63 L496.90,98.17 L496.81,98.70 L496.69,99.23 L496.55,99.76 L496.40,100.30 L496.20,100.85 L495.95,101.39 L495.65,101.92 L495.34,102.46 L495.03,103.01 L494.76,103.56 L494.54,104.12 L494.40,104.70 L494.36,105.30 L494.40,105.91 L494.49,106.53 L494.62,107.16 L494.75,107.80 L494.86,108.44 L494.92,109.07 L494.90,109.70 L494.81,110.33 L494.66,110.95 L494.47,111.58 L494.25,112.21 L494.02,112.83 L493.79,113.46 L493.58,114.08 L493.40,114.70 L493.24,115.35 L493.07,116.05 L492.91,116.76 L492.76,117.46 L492.61,118.13 L492.49,118.72 L492.38,119.22 L492.30,119.60 L491.50,119.60 L491.42,119.22 L491.31,118.72 L491.19,118.13 L491.04,117.46 L490.89,116.76 L490.73,116.05 L490.56,115.35 L490.40,114.70 L490.22,114.08 L490.01,113.46 L489.78,112.83 L489.55,112.21 L489.33,111.58 L489.14,110.95 L488.99,110.33 L488.90,109.70 L488.88,109.07 L488.94,108.44 L489.05,107.80 L489.18,107.16 L489.31,106.53 L489.40,105.91 L489.44,105.30 L489.40,104.70 L489.26,104.12 L489.04,103.56 L488.77,103.01 L488.46,102.46 L488.15,101.92 L487.85,101.39 L487.60,100.85 L487.40,100.30 L487.25,99.76 L487.11,99.23 L486.99,98.70 L486.90,98.17 L486.84,97.63 L486.81,97.08 L486.83,96.50 L486.90,95.90 L487.03,95.27 L487.21,94.62 L487.44,93.94 L487.71,93.26 L488.00,92.55 L488.30,91.84 L488.60,91.12 L488.90,90.40 L489.21,89.62 L489.57,88.77 L489.95,87.89 L490.32,87.01 L490.69,86.17 L491.02,85.41 L491.30,84.77 L491.50,84.30 Z" fill="#cc0a33" stroke="#8e0b22" stroke-width="0.45" stroke-linejoin="round"/>
<circle cx="432.30" cy="83.00" r="2.4" fill="#111"/>
<circle cx="429.20" cy="94.80" r="2.4" fill="#111"/>
<circle cx="435.00" cy="95.40" r="2.4" fill="#111"/>
<circle cx="432.30" cy="100.30" r="2.4" fill="#111"/>
<circle cx="451.60" cy="100.00" r="2.4" fill="#111"/>
<circle cx="445.20" cy="104.20" r="2.4" fill="#111"/>
<circle cx="451.60" cy="107.50" r="2.4" fill="#111"/>
<circle cx="448.50" cy="116.90" r="2.4" fill="#111"/>
<circle cx="475.70" cy="75.70" r="2.4" fill="#111"/>
<circle cx="476.00" cy="86.30" r="2.4" fill="#111"/>
<circle cx="479.00" cy="86.30" r="2.4" fill="#111"/>
<circle cx="472.50" cy="90.60" r="2.4" fill="#111"/>
<circle cx="495.10" cy="94.20" r="2.4" fill="#111"/>
<circle cx="488.80" cy="96.10" r="2.4" fill="#111"/>
<circle cx="495.10" cy="100.90" r="2.4" fill="#111"/>
<circle cx="491.90" cy="109.90" r="2.4" fill="#111"/>
<line x1="432.00" y1="66.10" x2="449.60" y2="66.10" stroke="#666" stroke-width="1.4" />
<text x="440.80" y="63.90" font-size="5" text-anchor="middle" >*</text>
<line x1="476.00" y1="62.70" x2="494.60" y2="62.70" stroke="#666" stroke-width="1.4" />
<text x="485.30" y="60.50" font-size="5" text-anchor="middle" >*</text>
<text x="7.30" y="197.00" font-size="10.5" font-weight="bold" >C</text>
<text x="98.10" y="196.00" font-size="9.0" textLength="47.4" lengthAdjust="spacingAndGlyphs" >Without ECP</text>
<text x="181.40" y="196.00" font-size="9.0" textLength="71.5" lengthAdjust="spacingAndGlyphs" >With ECP (2 J/cm<tspan dy="-3.60" font-size="6.12">2</tspan><tspan dy="3.60">)</tspan></text>
<text x="119.70" y="208.50" font-size="6.7" fill="#56afe0" textLength="37.5" lengthAdjust="spacingAndGlyphs" >Quantification</text>
<text x="211.20" y="208.50" font-size="6.7" fill="#56afe0" textLength="37.5" lengthAdjust="spacingAndGlyphs" >Quantification</text>
<text x="15.40" y="221.80" font-size="6.8" fill="#55245f" textLength="58.6" lengthAdjust="spacingAndGlyphs" >PBMC + CAR-T cells</text>
<text x="64.20" y="233.80" font-size="5.3" fill="#cfcfd3" >Raji</text>
<rect x="92.5" y="222" width="72.30" height="3.8" fill="#2aa0d8"/>
<rect x="188.3" y="222" width="71.70" height="3.8" fill="#2aa0d8"/>
<line x1="93.10" y1="222.50" x2="93.10" y2="218.10" stroke="#3a8fae" stroke-width="1.1" />
<polygon points="93.10,214.00 95.20,218.40 91.00,218.40" fill="#3a8fae"/>
<line x1="107.15" y1="222.50" x2="107.15" y2="218.10" stroke="#3a8fae" stroke-width="1.1" />
<polygon points="107.15,214.00 109.25,218.40 105.05,218.40" fill="#3a8fae"/>
<line x1="121.20" y1="222.50" x2="121.20" y2="218.10" stroke="#3a8fae" stroke-width="1.1" />
<polygon points="121.20,214.00 123.30,218.40 119.10,218.40" fill="#3a8fae"/>
<line x1="135.25" y1="222.50" x2="135.25" y2="218.10" stroke="#3a8fae" stroke-width="1.1" />
<polygon points="135.25,214.00 137.35,218.40 133.15,218.40" fill="#3a8fae"/>
<line x1="149.30" y1="222.50" x2="149.30" y2="218.10" stroke="#3a8fae" stroke-width="1.1" />
<polygon points="149.30,214.00 151.40,218.40 147.20,218.40" fill="#3a8fae"/>
<line x1="163.35" y1="222.50" x2="163.35" y2="218.10" stroke="#3a8fae" stroke-width="1.1" />
<polygon points="163.35,214.00 165.45,218.40 161.25,218.40" fill="#3a8fae"/>
<line x1="188.60" y1="222.50" x2="188.60" y2="218.10" stroke="#3a8fae" stroke-width="1.1" />
<polygon points="188.60,214.00 190.70,218.40 186.50,218.40" fill="#3a8fae"/>
<line x1="202.65" y1="222.50" x2="202.65" y2="218.10" stroke="#3a8fae" stroke-width="1.1" />
<polygon points="202.65,214.00 204.75,218.40 200.55,218.40" fill="#3a8fae"/>
<line x1="216.70" y1="222.50" x2="216.70" y2="218.10" stroke="#3a8fae" stroke-width="1.1" />
<polygon points="216.70,214.00 218.80,218.40 214.60,218.40" fill="#3a8fae"/>
<line x1="230.75" y1="222.50" x2="230.75" y2="218.10" stroke="#3a8fae" stroke-width="1.1" />
<polygon points="230.75,214.00 232.85,218.40 228.65,218.40" fill="#3a8fae"/>
<line x1="244.80" y1="222.50" x2="244.80" y2="218.10" stroke="#3a8fae" stroke-width="1.1" />
<polygon points="244.80,214.00 246.90,218.40 242.70,218.40" fill="#3a8fae"/>
<line x1="258.85" y1="222.50" x2="258.85" y2="218.10" stroke="#3a8fae" stroke-width="1.1" />
<polygon points="258.85,214.00 260.95,218.40 256.75,218.40" fill="#3a8fae"/>
<line x1="79.50" y1="215.00" x2="79.50" y2="219.90" stroke="#55245f" stroke-width="1.2" />
<polygon points="79.50,223.60 77.50,219.60 81.50,219.60" fill="#55245f"/>
<line x1="174.20" y1="215.00" x2="174.20" y2="219.90" stroke="#55245f" stroke-width="1.2" />
<polygon points="174.20,223.60 172.20,219.60 176.20,219.60" fill="#55245f"/>
<line x1="79.50" y1="227.20" x2="79.50" y2="232.50" stroke="#c4c4ca" stroke-width="1.1" />
<polygon points="79.50,236.20 77.50,232.20 81.50,232.20" fill="#c4c4ca"/>
<line x1="174.20" y1="227.20" x2="174.20" y2="232.50" stroke="#c4c4ca" stroke-width="1.1" />
<polygon points="174.20,236.20 172.20,232.20 176.20,232.20" fill="#c4c4ca"/>
<text x="7.30" y="365.50" font-size="10.5" font-weight="bold" >E</text>
<text x="98.10" y="364.40" font-size="9.0" textLength="47.4" lengthAdjust="spacingAndGlyphs" >Without ECP</text>
<text x="181.40" y="364.40" font-size="9.0" textLength="71.5" lengthAdjust="spacingAndGlyphs" >With ECP (2 J/cm<tspan dy="-3.60" font-size="6.12">2</tspan><tspan dy="3.60">)</tspan></text>
<text x="119.70" y="377.50" font-size="6.7" fill="#56afe0" textLength="37.5" lengthAdjust="spacingAndGlyphs" >Quantification</text>
<text x="211.20" y="377.50" font-size="6.7" fill="#56afe0" textLength="37.5" lengthAdjust="spacingAndGlyphs" >Quantification</text>
<text x="15.40" y="389.50" font-size="6.8" fill="#55245f" textLength="58.6" lengthAdjust="spacingAndGlyphs" >PBMC + CAR-T cells</text>
<text x="64.20" y="401.30" font-size="5.3" fill="#cfcfd3" >Raji</text>
<rect x="92.5" y="390.2" width="72.30" height="3.8" fill="#2aa0d8"/>
<rect x="188.3" y="390.2" width="71.70" height="3.8" fill="#2aa0d8"/>
<line x1="93.10" y1="390.70" x2="93.10" y2="387.00" stroke="#3a8fae" stroke-width="1.1" />
<polygon points="93.10,382.90 95.20,387.30 91.00,387.30" fill="#3a8fae"/>
<line x1="107.15" y1="390.70" x2="107.15" y2="387.00" stroke="#3a8fae" stroke-width="1.1" />
<polygon points="107.15,382.90 109.25,387.30 105.05,387.30" fill="#3a8fae"/>
<line x1="121.20" y1="390.70" x2="121.20" y2="387.00" stroke="#3a8fae" stroke-width="1.1" />
<polygon points="121.20,382.90 123.30,387.30 119.10,387.30" fill="#3a8fae"/>
<line x1="135.25" y1="390.70" x2="135.25" y2="387.00" stroke="#3a8fae" stroke-width="1.1" />
<polygon points="135.25,382.90 137.35,387.30 133.15,387.30" fill="#3a8fae"/>
<line x1="149.30" y1="390.70" x2="149.30" y2="387.00" stroke="#3a8fae" stroke-width="1.1" />
<polygon points="149.30,382.90 151.40,387.30 147.20,387.30" fill="#3a8fae"/>
<line x1="163.35" y1="390.70" x2="163.35" y2="387.00" stroke="#3a8fae" stroke-width="1.1" />
<polygon points="163.35,382.90 165.45,387.30 161.25,387.30" fill="#3a8fae"/>
<line x1="188.60" y1="390.70" x2="188.60" y2="387.00" stroke="#3a8fae" stroke-width="1.1" />
<polygon points="188.60,382.90 190.70,387.30 186.50,387.30" fill="#3a8fae"/>
<line x1="202.65" y1="390.70" x2="202.65" y2="387.00" stroke="#3a8fae" stroke-width="1.1" />
<polygon points="202.65,382.90 204.75,387.30 200.55,387.30" fill="#3a8fae"/>
<line x1="216.70" y1="390.70" x2="216.70" y2="387.00" stroke="#3a8fae" stroke-width="1.1" />
<polygon points="216.70,382.90 218.80,387.30 214.60,387.30" fill="#3a8fae"/>
<line x1="230.75" y1="390.70" x2="230.75" y2="387.00" stroke="#3a8fae" stroke-width="1.1" />
<polygon points="230.75,382.90 232.85,387.30 228.65,387.30" fill="#3a8fae"/>
<line x1="244.80" y1="390.70" x2="244.80" y2="387.00" stroke="#3a8fae" stroke-width="1.1" />
<polygon points="244.80,382.90 246.90,387.30 242.70,387.30" fill="#3a8fae"/>
<line x1="258.85" y1="390.70" x2="258.85" y2="387.00" stroke="#3a8fae" stroke-width="1.1" />
<polygon points="258.85,382.90 260.95,387.30 256.75,387.30" fill="#3a8fae"/>
<line x1="79.50" y1="383.20" x2="79.50" y2="388.10" stroke="#55245f" stroke-width="1.2" />
<polygon points="79.50,391.80 77.50,387.80 81.50,387.80" fill="#55245f"/>
<line x1="174.20" y1="383.20" x2="174.20" y2="388.10" stroke="#55245f" stroke-width="1.2" />
<polygon points="174.20,391.80 172.20,387.80 176.20,387.80" fill="#55245f"/>
<line x1="79.50" y1="395.40" x2="79.50" y2="400.70" stroke="#c4c4ca" stroke-width="1.1" />
<polygon points="79.50,404.40 77.50,400.40 81.50,400.40" fill="#c4c4ca"/>
<line x1="93.60" y1="395.40" x2="93.60" y2="400.70" stroke="#c4c4ca" stroke-width="1.1" />
<polygon points="93.60,404.40 91.60,400.40 95.60,400.40" fill="#c4c4ca"/>
<line x1="107.70" y1="395.40" x2="107.70" y2="400.70" stroke="#c4c4ca" stroke-width="1.1" />
<polygon points="107.70,404.40 105.70,400.40 109.70,400.40" fill="#c4c4ca"/>
<line x1="121.80" y1="395.40" x2="121.80" y2="400.70" stroke="#c4c4ca" stroke-width="1.1" />
<polygon points="121.80,404.40 119.80,400.40 123.80,400.40" fill="#c4c4ca"/>
<line x1="135.90" y1="395.40" x2="135.90" y2="400.70" stroke="#c4c4ca" stroke-width="1.1" />
<polygon points="135.90,404.40 133.90,400.40 137.90,400.40" fill="#c4c4ca"/>
<line x1="150.00" y1="395.40" x2="150.00" y2="400.70" stroke="#c4c4ca" stroke-width="1.1" />
<polygon points="150.00,404.40 148.00,400.40 152.00,400.40" fill="#c4c4ca"/>
<line x1="174.20" y1="395.40" x2="174.20" y2="400.70" stroke="#c4c4ca" stroke-width="1.1" />
<polygon points="174.20,404.40 172.20,400.40 176.20,400.40" fill="#c4c4ca"/>
<line x1="188.40" y1="395.40" x2="188.40" y2="400.70" stroke="#c4c4ca" stroke-width="1.1" />
<polygon points="188.40,404.40 186.40,400.40 190.40,400.40" fill="#c4c4ca"/>
<line x1="202.60" y1="395.40" x2="202.60" y2="400.70" stroke="#c4c4ca" stroke-width="1.1" />
<polygon points="202.60,404.40 200.60,400.40 204.60,400.40" fill="#c4c4ca"/>
<line x1="216.80" y1="395.40" x2="216.80" y2="400.70" stroke="#c4c4ca" stroke-width="1.1" />
<polygon points="216.80,404.40 214.80,400.40 218.80,400.40" fill="#c4c4ca"/>
<line x1="231.00" y1="395.40" x2="231.00" y2="400.70" stroke="#c4c4ca" stroke-width="1.1" />
<polygon points="231.00,404.40 229.00,400.40 233.00,400.40" fill="#c4c4ca"/>
<line x1="245.20" y1="395.40" x2="245.20" y2="400.70" stroke="#c4c4ca" stroke-width="1.1" />
<polygon points="245.20,404.40 243.20,400.40 247.20,400.40" fill="#c4c4ca"/>
<path d="M79.70,301.60 C80.42,301.70 82.28,301.92 84.00,302.20 C85.72,302.48 87.83,302.98 90.00,303.30 C92.17,303.62 94.67,303.92 97.00,304.10 C99.33,304.28 101.83,304.33 104.00,304.40 C106.17,304.47 99.75,304.48 110.00,304.50 C120.25,304.52 156.25,304.50 165.50,304.50 L165.50,304.5 L79.70,304.5 Z" fill="#d3e3ee"/>
<path d="M174.00,302.20 C174.50,302.40 175.67,303.07 177.00,303.40 C178.33,303.73 180.17,304.02 182.00,304.20 C183.83,304.38 175.08,304.45 188.00,304.50 C200.92,304.55 247.58,304.50 259.50,304.50 L259.50,304.5 L174.00,304.5 Z" fill="#d3e3ee"/>
<path d="M82.20,304.50 C83.17,302.58 85.87,296.92 88.00,293.00 C90.13,289.08 92.67,284.50 95.00,281.00 C97.33,277.50 99.67,274.47 102.00,272.00 C104.33,269.53 106.83,267.43 109.00,266.20 C111.17,264.97 113.00,264.70 115.00,264.60 C117.00,264.50 118.50,264.70 121.00,265.60 C123.50,266.50 126.83,268.02 130.00,270.00 C133.17,271.98 136.67,275.00 140.00,277.50 C143.33,280.00 147.00,282.75 150.00,285.00 C153.00,287.25 155.42,289.08 158.00,291.00 C160.58,292.92 164.25,295.58 165.50,296.50 L165.50,304.50 L82.20,304.50 Z" fill="#f29100"/>
<path d="M82.20,304.50 C83.17,302.58 85.87,296.92 88.00,293.00 C90.13,289.08 92.67,284.50 95.00,281.00 C97.33,277.50 99.67,274.47 102.00,272.00 C104.33,269.53 106.83,267.43 109.00,266.20 C111.17,264.97 113.00,264.70 115.00,264.60 C117.00,264.50 118.50,264.70 121.00,265.60 C123.50,266.50 126.83,268.02 130.00,270.00 C133.17,271.98 136.67,275.00 140.00,277.50 C143.33,280.00 147.00,282.75 150.00,285.00 C153.00,287.25 155.42,289.08 158.00,291.00 C160.58,292.92 164.25,295.58 165.50,296.50" fill="none" stroke="#2a1b10" stroke-width="1.0"/>
<path d="M176.00,304.50 C177.00,303.83 179.67,302.00 182.00,300.50 C184.33,299.00 187.00,296.95 190.00,295.50 C193.00,294.05 196.88,292.58 200.00,291.80 C203.12,291.02 205.70,290.85 208.70,290.80 C211.70,290.75 214.78,290.97 218.00,291.50 C221.22,292.03 224.67,293.00 228.00,294.00 C231.33,295.00 234.67,296.33 238.00,297.50 C241.33,298.67 244.42,299.83 248.00,301.00 C251.58,302.17 257.58,303.92 259.50,304.50 L259.50,304.50 L176.00,304.50 Z" fill="#0b6651"/>
<path d="M176.00,304.50 C177.00,303.83 179.67,302.00 182.00,300.50 C184.33,299.00 187.00,296.95 190.00,295.50 C193.00,294.05 196.88,292.58 200.00,291.80 C203.12,291.02 205.70,290.85 208.70,290.80 C211.70,290.75 214.78,290.97 218.00,291.50 C221.22,292.03 224.67,293.00 228.00,294.00 C231.33,295.00 234.67,296.33 238.00,297.50 C241.33,298.67 244.42,299.83 248.00,301.00 C251.58,302.17 257.58,303.92 259.50,304.50" fill="none" stroke="#2a1b10" stroke-width="1.0"/>
<path d="M79.70,301.60 C80.42,301.70 82.28,301.92 84.00,302.20 C85.72,302.48 87.83,302.98 90.00,303.30 C92.17,303.62 94.67,303.92 97.00,304.10 C99.33,304.28 101.83,304.33 104.00,304.40 C106.17,304.47 99.75,304.48 110.00,304.50 C120.25,304.52 156.25,304.50 165.50,304.50" fill="none" stroke="#2a1b10" stroke-width="0.8"/>
<path d="M174.00,302.20 C174.50,302.40 175.67,303.07 177.00,303.40 C178.33,303.73 180.17,304.02 182.00,304.20 C183.83,304.38 175.08,304.45 188.00,304.50 C200.92,304.55 247.58,304.50 259.50,304.50" fill="none" stroke="#2a1b10" stroke-width="0.8"/>
<line x1="79.70" y1="245.00" x2="79.70" y2="304.50" stroke="#231f20" stroke-width="1.15" />
<line x1="76.50" y1="247.22" x2="79.70" y2="247.22" stroke="#231f20" stroke-width="0.8" />
<text x="74.20" y="249.60" font-size="6.6" text-anchor="end" >8</text>
<line x1="76.50" y1="261.54" x2="79.70" y2="261.54" stroke="#231f20" stroke-width="0.8" />
<text x="74.20" y="263.92" font-size="6.6" text-anchor="end" >6</text>
<line x1="76.50" y1="275.86" x2="79.70" y2="275.86" stroke="#231f20" stroke-width="0.8" />
<text x="74.20" y="278.24" font-size="6.6" text-anchor="end" >4</text>
<line x1="76.50" y1="290.18" x2="79.70" y2="290.18" stroke="#231f20" stroke-width="0.8" />
<text x="74.20" y="292.56" font-size="6.6" text-anchor="end" >2</text>
<line x1="76.50" y1="304.50" x2="79.70" y2="304.50" stroke="#231f20" stroke-width="0.8" />
<text x="74.20" y="306.88" font-size="6.6" text-anchor="end" >0</text>
<line x1="165.50" y1="245.00" x2="165.50" y2="304.50" stroke="#231f20" stroke-width="1.15" />
<line x1="165.50" y1="247.22" x2="168.10" y2="247.22" stroke="#231f20" stroke-width="0.8" />
<line x1="165.50" y1="261.54" x2="168.10" y2="261.54" stroke="#231f20" stroke-width="0.8" />
<line x1="165.50" y1="275.86" x2="168.10" y2="275.86" stroke="#231f20" stroke-width="0.8" />
<line x1="165.50" y1="290.18" x2="168.10" y2="290.18" stroke="#231f20" stroke-width="0.8" />
<line x1="165.50" y1="304.50" x2="168.10" y2="304.50" stroke="#231f20" stroke-width="0.8" />
<line x1="174.00" y1="245.00" x2="174.00" y2="304.50" stroke="#231f20" stroke-width="1.15" />
<line x1="171.40" y1="247.22" x2="174.00" y2="247.22" stroke="#231f20" stroke-width="0.8" />
<line x1="171.40" y1="261.54" x2="174.00" y2="261.54" stroke="#231f20" stroke-width="0.8" />
<line x1="171.40" y1="275.86" x2="174.00" y2="275.86" stroke="#231f20" stroke-width="0.8" />
<line x1="171.40" y1="290.18" x2="174.00" y2="290.18" stroke="#231f20" stroke-width="0.8" />
<line x1="171.40" y1="304.50" x2="174.00" y2="304.50" stroke="#231f20" stroke-width="0.8" />
<line x1="259.50" y1="245.00" x2="259.50" y2="304.50" stroke="#231f20" stroke-width="1.15" />
<line x1="259.50" y1="247.22" x2="262.10" y2="247.22" stroke="#231f20" stroke-width="0.8" />
<text x="265.60" y="249.60" font-size="6.6" >8</text>
<line x1="259.50" y1="261.54" x2="262.10" y2="261.54" stroke="#231f20" stroke-width="0.8" />
<text x="265.60" y="263.92" font-size="6.6" >6</text>
<line x1="259.50" y1="275.86" x2="262.10" y2="275.86" stroke="#231f20" stroke-width="0.8" />
<text x="265.60" y="278.24" font-size="6.6" >4</text>
<line x1="259.50" y1="290.18" x2="262.10" y2="290.18" stroke="#231f20" stroke-width="0.8" />
<text x="265.60" y="292.56" font-size="6.6" >2</text>
<line x1="259.50" y1="304.50" x2="262.10" y2="304.50" stroke="#231f20" stroke-width="0.8" />
<text x="265.60" y="306.88" font-size="6.6" >0</text>
<line x1="79.70" y1="304.50" x2="165.50" y2="304.50" stroke="#231f20" stroke-width="1.15" />
<line x1="79.70" y1="304.50" x2="79.70" y2="307.30" stroke="#231f20" stroke-width="0.8" />
<text x="79.70" y="316.00" font-size="6.6" text-anchor="middle" >0</text>
<line x1="94.00" y1="304.50" x2="94.00" y2="307.30" stroke="#231f20" stroke-width="0.8" />
<text x="94.00" y="316.00" font-size="6.6" text-anchor="middle" >3</text>
<line x1="108.30" y1="304.50" x2="108.30" y2="307.30" stroke="#231f20" stroke-width="0.8" />
<text x="108.30" y="316.00" font-size="6.6" text-anchor="middle" >6</text>
<line x1="122.60" y1="304.50" x2="122.60" y2="307.30" stroke="#231f20" stroke-width="0.8" />
<text x="122.60" y="316.00" font-size="6.6" text-anchor="middle" >9</text>
<line x1="136.90" y1="304.50" x2="136.90" y2="307.30" stroke="#231f20" stroke-width="0.8" />
<text x="136.90" y="316.00" font-size="6.6" text-anchor="middle" >12</text>
<line x1="151.20" y1="304.50" x2="151.20" y2="307.30" stroke="#231f20" stroke-width="0.8" />
<text x="151.20" y="316.00" font-size="6.6" text-anchor="middle" >15</text>
<line x1="165.50" y1="304.50" x2="165.50" y2="307.30" stroke="#231f20" stroke-width="0.8" />
<text x="165.50" y="316.00" font-size="6.6" text-anchor="middle" >18</text>
<line x1="174.00" y1="304.50" x2="259.50" y2="304.50" stroke="#231f20" stroke-width="1.15" />
<line x1="174.00" y1="304.50" x2="174.00" y2="307.30" stroke="#231f20" stroke-width="0.8" />
<text x="174.00" y="316.00" font-size="6.6" text-anchor="middle" >0</text>
<line x1="188.25" y1="304.50" x2="188.25" y2="307.30" stroke="#231f20" stroke-width="0.8" />
<text x="188.25" y="316.00" font-size="6.6" text-anchor="middle" >3</text>
<line x1="202.50" y1="304.50" x2="202.50" y2="307.30" stroke="#231f20" stroke-width="0.8" />
<text x="202.50" y="316.00" font-size="6.6" text-anchor="middle" >6</text>
<line x1="216.75" y1="304.50" x2="216.75" y2="307.30" stroke="#231f20" stroke-width="0.8" />
<text x="216.75" y="316.00" font-size="6.6" text-anchor="middle" >9</text>
<line x1="231.00" y1="304.50" x2="231.00" y2="307.30" stroke="#231f20" stroke-width="0.8" />
<text x="231.00" y="316.00" font-size="6.6" text-anchor="middle" >12</text>
<line x1="245.25" y1="304.50" x2="245.25" y2="307.30" stroke="#231f20" stroke-width="0.8" />
<text x="245.25" y="316.00" font-size="6.6" text-anchor="middle" >15</text>
<line x1="259.50" y1="304.50" x2="259.50" y2="307.30" stroke="#231f20" stroke-width="0.8" />
<text x="259.50" y="316.00" font-size="6.6" text-anchor="middle" >18</text>
<text x="58.40" y="300.20" font-size="7.4" textLength="49.69999999999999" lengthAdjust="spacingAndGlyphs" transform="rotate(-90 58.40 300.20)" stroke="#231f20" stroke-width="0.15">CAR-T count (x10<tspan dy="-2.4" font-size="4.59">6</tspan><tspan dy="2.4">)</tspan></text>
<text x="286.00" y="299.40" font-size="7.4" textLength="48.599999999999966" lengthAdjust="spacingAndGlyphs" transform="rotate(-90 286.00 299.40)" stroke="#231f20" stroke-width="0.15">Tumor count (x10<tspan dy="-2.4" font-size="4.59">6</tspan><tspan dy="2.4">)</tspan></text>
<text x="79.60" y="327.60" font-size="8.0" textLength="37.4" lengthAdjust="spacingAndGlyphs" stroke="#262626" stroke-width="0.3">Coculture days</text>
<line x1="125.50" y1="325.70" x2="245.90" y2="325.70" stroke="#231f20" stroke-width="0.8" />
<polygon points="248.80,325.70 245.60,327.10 245.60,324.30" fill="#231f20"/>
<line x1="64.60" y1="302.80" x2="64.60" y2="249.10" stroke="#231f20" stroke-width="0.8" />
<polygon points="64.60,246.40 66.10,249.40 63.10,249.40" fill="#231f20"/>
<line x1="273.50" y1="302.60" x2="273.50" y2="249.70" stroke="#231f20" stroke-width="0.8" />
<polygon points="273.50,247.00 274.90,250.00 272.10,250.00" fill="#231f20"/>
<path d="M79.70,470.80 C80.42,470.93 81.95,471.35 84.00,471.60 C86.05,471.85 88.50,472.20 92.00,472.30 C95.50,472.40 100.33,472.32 105.00,472.20 C109.67,472.08 115.00,471.65 120.00,471.60 C125.00,471.55 130.00,471.73 135.00,471.90 C140.00,472.07 144.92,472.42 150.00,472.60 C155.08,472.78 162.92,472.93 165.50,473.00 L165.50,473.0 L79.70,473.0 Z" fill="#d3e3ee"/>
<path d="M174.00,470.80 C174.67,471.08 176.17,472.13 178.00,472.50 C179.83,472.87 171.42,472.92 185.00,473.00 C198.58,473.08 247.08,473.00 259.50,473.00 L259.50,473.0 L174.00,473.0 Z" fill="#d3e3ee"/>
<path d="M82.50,473.00 C83.08,472.17 84.75,470.00 86.00,468.00 C87.25,466.00 88.50,463.67 90.00,461.00 C91.50,458.33 93.33,454.87 95.00,452.00 C96.67,449.13 98.50,446.22 100.00,443.80 C101.50,441.38 102.67,439.38 104.00,437.50 C105.33,435.62 106.67,434.08 108.00,432.50 C109.33,430.92 110.67,429.42 112.00,428.00 C113.33,426.58 114.67,425.25 116.00,424.00 C117.33,422.75 118.70,421.37 120.00,420.50 C121.30,419.63 122.47,419.07 123.80,418.80 C125.13,418.53 126.47,418.65 128.00,418.90 C129.53,419.15 131.17,419.48 133.00,420.30 C134.83,421.12 137.00,422.25 139.00,423.80 C141.00,425.35 143.00,427.68 145.00,429.60 C147.00,431.52 148.92,433.37 151.00,435.30 C153.08,437.23 155.08,439.17 157.50,441.20 C159.92,443.23 164.17,446.45 165.50,447.50 L165.50,473.00 L82.50,473.00 Z" fill="#f29100"/>
<path d="M82.50,473.00 C83.08,472.17 84.75,470.00 86.00,468.00 C87.25,466.00 88.50,463.67 90.00,461.00 C91.50,458.33 93.33,454.87 95.00,452.00 C96.67,449.13 98.50,446.22 100.00,443.80 C101.50,441.38 102.67,439.38 104.00,437.50 C105.33,435.62 106.67,434.08 108.00,432.50 C109.33,430.92 110.67,429.42 112.00,428.00 C113.33,426.58 114.67,425.25 116.00,424.00 C117.33,422.75 118.70,421.37 120.00,420.50 C121.30,419.63 122.47,419.07 123.80,418.80 C125.13,418.53 126.47,418.65 128.00,418.90 C129.53,419.15 131.17,419.48 133.00,420.30 C134.83,421.12 137.00,422.25 139.00,423.80 C141.00,425.35 143.00,427.68 145.00,429.60 C147.00,431.52 148.92,433.37 151.00,435.30 C153.08,437.23 155.08,439.17 157.50,441.20 C159.92,443.23 164.17,446.45 165.50,447.50" fill="none" stroke="#2a1b10" stroke-width="1.0"/>
<path d="M178.70,473.00 C179.42,472.42 181.45,470.83 183.00,469.50 C184.55,468.17 186.00,467.08 188.00,465.00 C190.00,462.92 192.58,459.72 195.00,457.00 C197.42,454.28 200.00,451.28 202.50,448.70 C205.00,446.12 207.62,443.40 210.00,441.50 C212.38,439.60 214.38,438.45 216.80,437.30 C219.22,436.15 222.13,434.88 224.50,434.60 C226.87,434.32 228.75,434.78 231.00,435.60 C233.25,436.42 235.67,437.77 238.00,439.50 C240.33,441.23 242.67,443.42 245.00,446.00 C247.33,448.58 249.58,451.75 252.00,455.00 C254.42,458.25 258.25,463.75 259.50,465.50 L259.50,473.00 L178.70,473.00 Z" fill="#0b6651"/>
<path d="M178.70,473.00 C179.42,472.42 181.45,470.83 183.00,469.50 C184.55,468.17 186.00,467.08 188.00,465.00 C190.00,462.92 192.58,459.72 195.00,457.00 C197.42,454.28 200.00,451.28 202.50,448.70 C205.00,446.12 207.62,443.40 210.00,441.50 C212.38,439.60 214.38,438.45 216.80,437.30 C219.22,436.15 222.13,434.88 224.50,434.60 C226.87,434.32 228.75,434.78 231.00,435.60 C233.25,436.42 235.67,437.77 238.00,439.50 C240.33,441.23 242.67,443.42 245.00,446.00 C247.33,448.58 249.58,451.75 252.00,455.00 C254.42,458.25 258.25,463.75 259.50,465.50" fill="none" stroke="#2a1b10" stroke-width="1.0"/>
<path d="M79.70,470.80 C80.42,470.93 81.95,471.35 84.00,471.60 C86.05,471.85 88.50,472.20 92.00,472.30 C95.50,472.40 100.33,472.32 105.00,472.20 C109.67,472.08 115.00,471.65 120.00,471.60 C125.00,471.55 130.00,471.73 135.00,471.90 C140.00,472.07 144.92,472.42 150.00,472.60 C155.08,472.78 162.92,472.93 165.50,473.00" fill="none" stroke="#2a1b10" stroke-width="0.8"/>
<path d="M174.00,470.80 C174.67,471.08 176.17,472.13 178.00,472.50 C179.83,472.87 171.42,472.92 185.00,473.00 C198.58,473.08 247.08,473.00 259.50,473.00" fill="none" stroke="#2a1b10" stroke-width="0.8"/>
<line x1="79.70" y1="413.20" x2="79.70" y2="473.00" stroke="#231f20" stroke-width="1.15" />
<line x1="76.50" y1="415.40" x2="79.70" y2="415.40" stroke="#231f20" stroke-width="0.8" />
<text x="74.20" y="417.78" font-size="6.6" text-anchor="end" >8</text>
<line x1="76.50" y1="429.80" x2="79.70" y2="429.80" stroke="#231f20" stroke-width="0.8" />
<text x="74.20" y="432.18" font-size="6.6" text-anchor="end" >6</text>
<line x1="76.50" y1="444.20" x2="79.70" y2="444.20" stroke="#231f20" stroke-width="0.8" />
<text x="74.20" y="446.58" font-size="6.6" text-anchor="end" >4</text>
<line x1="76.50" y1="458.60" x2="79.70" y2="458.60" stroke="#231f20" stroke-width="0.8" />
<text x="74.20" y="460.98" font-size="6.6" text-anchor="end" >2</text>
<line x1="76.50" y1="473.00" x2="79.70" y2="473.00" stroke="#231f20" stroke-width="0.8" />
<text x="74.20" y="475.38" font-size="6.6" text-anchor="end" >0</text>
<line x1="165.50" y1="413.20" x2="165.50" y2="473.00" stroke="#231f20" stroke-width="1.15" />
<line x1="165.50" y1="415.40" x2="168.10" y2="415.40" stroke="#231f20" stroke-width="0.8" />
<line x1="165.50" y1="429.80" x2="168.10" y2="429.80" stroke="#231f20" stroke-width="0.8" />
<line x1="165.50" y1="444.20" x2="168.10" y2="444.20" stroke="#231f20" stroke-width="0.8" />
<line x1="165.50" y1="458.60" x2="168.10" y2="458.60" stroke="#231f20" stroke-width="0.8" />
<line x1="165.50" y1="473.00" x2="168.10" y2="473.00" stroke="#231f20" stroke-width="0.8" />
<line x1="174.00" y1="413.20" x2="174.00" y2="473.00" stroke="#231f20" stroke-width="1.15" />
<line x1="171.40" y1="415.40" x2="174.00" y2="415.40" stroke="#231f20" stroke-width="0.8" />
<line x1="171.40" y1="429.80" x2="174.00" y2="429.80" stroke="#231f20" stroke-width="0.8" />
<line x1="171.40" y1="444.20" x2="174.00" y2="444.20" stroke="#231f20" stroke-width="0.8" />
<line x1="171.40" y1="458.60" x2="174.00" y2="458.60" stroke="#231f20" stroke-width="0.8" />
<line x1="171.40" y1="473.00" x2="174.00" y2="473.00" stroke="#231f20" stroke-width="0.8" />
<line x1="259.50" y1="413.20" x2="259.50" y2="473.00" stroke="#231f20" stroke-width="1.15" />
<line x1="259.50" y1="415.40" x2="262.10" y2="415.40" stroke="#231f20" stroke-width="0.8" />
<text x="265.60" y="417.78" font-size="6.6" >8</text>
<line x1="259.50" y1="429.80" x2="262.10" y2="429.80" stroke="#231f20" stroke-width="0.8" />
<text x="265.60" y="432.18" font-size="6.6" >6</text>
<line x1="259.50" y1="444.20" x2="262.10" y2="444.20" stroke="#231f20" stroke-width="0.8" />
<text x="265.60" y="446.58" font-size="6.6" >4</text>
<line x1="259.50" y1="458.60" x2="262.10" y2="458.60" stroke="#231f20" stroke-width="0.8" />
<text x="265.60" y="460.98" font-size="6.6" >2</text>
<line x1="259.50" y1="473.00" x2="262.10" y2="473.00" stroke="#231f20" stroke-width="0.8" />
<text x="265.60" y="475.38" font-size="6.6" >0</text>
<line x1="79.70" y1="473.00" x2="165.50" y2="473.00" stroke="#231f20" stroke-width="1.15" />
<line x1="79.70" y1="473.00" x2="79.70" y2="475.80" stroke="#231f20" stroke-width="0.8" />
<text x="79.70" y="484.50" font-size="6.6" text-anchor="middle" >0</text>
<line x1="94.00" y1="473.00" x2="94.00" y2="475.80" stroke="#231f20" stroke-width="0.8" />
<text x="94.00" y="484.50" font-size="6.6" text-anchor="middle" >1</text>
<line x1="108.30" y1="473.00" x2="108.30" y2="475.80" stroke="#231f20" stroke-width="0.8" />
<text x="108.30" y="484.50" font-size="6.6" text-anchor="middle" >2</text>
<line x1="122.60" y1="473.00" x2="122.60" y2="475.80" stroke="#231f20" stroke-width="0.8" />
<text x="122.60" y="484.50" font-size="6.6" text-anchor="middle" >3</text>
<line x1="136.90" y1="473.00" x2="136.90" y2="475.80" stroke="#231f20" stroke-width="0.8" />
<text x="136.90" y="484.50" font-size="6.6" text-anchor="middle" >4</text>
<line x1="151.20" y1="473.00" x2="151.20" y2="475.80" stroke="#231f20" stroke-width="0.8" />
<text x="151.20" y="484.50" font-size="6.6" text-anchor="middle" >5</text>
<line x1="165.50" y1="473.00" x2="165.50" y2="475.80" stroke="#231f20" stroke-width="0.8" />
<text x="165.50" y="484.50" font-size="6.6" text-anchor="middle" >6</text>
<line x1="174.00" y1="473.00" x2="259.50" y2="473.00" stroke="#231f20" stroke-width="1.15" />
<line x1="174.00" y1="473.00" x2="174.00" y2="475.80" stroke="#231f20" stroke-width="0.8" />
<text x="174.00" y="484.50" font-size="6.6" text-anchor="middle" >0</text>
<line x1="188.25" y1="473.00" x2="188.25" y2="475.80" stroke="#231f20" stroke-width="0.8" />
<text x="188.25" y="484.50" font-size="6.6" text-anchor="middle" >1</text>
<line x1="202.50" y1="473.00" x2="202.50" y2="475.80" stroke="#231f20" stroke-width="0.8" />
<text x="202.50" y="484.50" font-size="6.6" text-anchor="middle" >2</text>
<line x1="216.75" y1="473.00" x2="216.75" y2="475.80" stroke="#231f20" stroke-width="0.8" />
<text x="216.75" y="484.50" font-size="6.6" text-anchor="middle" >3</text>
<line x1="231.00" y1="473.00" x2="231.00" y2="475.80" stroke="#231f20" stroke-width="0.8" />
<text x="231.00" y="484.50" font-size="6.6" text-anchor="middle" >4</text>
<line x1="245.25" y1="473.00" x2="245.25" y2="475.80" stroke="#231f20" stroke-width="0.8" />
<text x="245.25" y="484.50" font-size="6.6" text-anchor="middle" >5</text>
<line x1="259.50" y1="473.00" x2="259.50" y2="475.80" stroke="#231f20" stroke-width="0.8" />
<text x="259.50" y="484.50" font-size="6.6" text-anchor="middle" >6</text>
<text x="58.40" y="471.00" font-size="7.4" textLength="55.0" lengthAdjust="spacingAndGlyphs" transform="rotate(-90 58.40 471.00)" stroke="#231f20" stroke-width="0.15">CAR-T count (x10<tspan dy="-2.4" font-size="4.59">6</tspan><tspan dy="2.4">)</tspan></text>
<text x="286.00" y="468.80" font-size="7.4" textLength="51.30000000000001" lengthAdjust="spacingAndGlyphs" transform="rotate(-90 286.00 468.80)" stroke="#231f20" stroke-width="0.15">Tumor count (x10<tspan dy="-2.4" font-size="4.59">6</tspan><tspan dy="2.4">)</tspan></text>
<text x="79.60" y="496.30" font-size="8.0" textLength="40.7" lengthAdjust="spacingAndGlyphs" stroke="#262626" stroke-width="0.3">Challenge round</text>
<line x1="128.80" y1="494.50" x2="245.90" y2="494.50" stroke="#231f20" stroke-width="0.8" />
<polygon points="248.80,494.50 245.60,495.90 245.60,493.10" fill="#231f20"/>
<line x1="65.00" y1="471.00" x2="65.00" y2="416.50" stroke="#231f20" stroke-width="0.8" />
<polygon points="65.00,413.80 66.40,416.80 63.60,416.80" fill="#231f20"/>
<line x1="273.30" y1="471.00" x2="273.30" y2="417.70" stroke="#231f20" stroke-width="0.8" />
<polygon points="273.30,415.00 274.70,418.00 271.90,418.00" fill="#231f20"/>
<text x="302.80" y="197.00" font-size="10.5" font-weight="bold" >D</text>
<line x1="346.30" y1="208.00" x2="346.30" y2="304.40" stroke="#231f20" stroke-width="1.15" />
<line x1="343.70" y1="210.00" x2="346.30" y2="210.00" stroke="#231f20" stroke-width="0.8" />
<text x="341.20" y="212.38" font-size="6.6" text-anchor="end" >20</text>
<line x1="343.70" y1="228.88" x2="346.30" y2="228.88" stroke="#231f20" stroke-width="0.8" />
<text x="341.20" y="231.26" font-size="6.6" text-anchor="end" >16</text>
<line x1="343.70" y1="247.76" x2="346.30" y2="247.76" stroke="#231f20" stroke-width="0.8" />
<text x="341.20" y="250.14" font-size="6.6" text-anchor="end" >12</text>
<line x1="343.70" y1="266.64" x2="346.30" y2="266.64" stroke="#231f20" stroke-width="0.8" />
<text x="341.20" y="269.02" font-size="6.6" text-anchor="end" >8</text>
<line x1="343.70" y1="285.52" x2="346.30" y2="285.52" stroke="#231f20" stroke-width="0.8" />
<text x="341.20" y="287.90" font-size="6.6" text-anchor="end" >4</text>
<line x1="343.70" y1="304.40" x2="346.30" y2="304.40" stroke="#231f20" stroke-width="0.8" />
<text x="341.20" y="306.78" font-size="6.6" text-anchor="end" >0</text>
<line x1="346.30" y1="304.40" x2="408.80" y2="304.40" stroke="#231f20" stroke-width="1.15" />
<line x1="420.50" y1="304.40" x2="483.60" y2="304.40" stroke="#231f20" stroke-width="1.15" />
<line x1="483.60" y1="208.00" x2="483.60" y2="304.40" stroke="#231f20" stroke-width="1.15" />
<line x1="483.60" y1="210.00" x2="486.20" y2="210.00" stroke="#231f20" stroke-width="0.8" />
<text x="489.60" y="212.38" font-size="6.6" >20</text>
<line x1="483.60" y1="228.88" x2="486.20" y2="228.88" stroke="#231f20" stroke-width="0.8" />
<text x="489.60" y="231.26" font-size="6.6" >16</text>
<line x1="483.60" y1="247.76" x2="486.20" y2="247.76" stroke="#231f20" stroke-width="0.8" />
<text x="489.60" y="250.14" font-size="6.6" >12</text>
<line x1="483.60" y1="266.64" x2="486.20" y2="266.64" stroke="#231f20" stroke-width="0.8" />
<text x="489.60" y="269.02" font-size="6.6" >8</text>
<line x1="483.60" y1="285.52" x2="486.20" y2="285.52" stroke="#231f20" stroke-width="0.8" />
<text x="489.60" y="287.90" font-size="6.6" >4</text>
<line x1="483.60" y1="304.40" x2="486.20" y2="304.40" stroke="#231f20" stroke-width="0.8" />
<text x="489.60" y="306.78" font-size="6.6" >0</text>
<text x="324.60" y="288.30" font-size="7.4" textLength="63.2" lengthAdjust="spacingAndGlyphs" transform="rotate(-90 324.60 288.30)" stroke="#231f20" stroke-width="0.15">CAR-T expansion (x10<tspan dy="-2.4" font-size="4.59">6</tspan><tspan dy="2.4">)</tspan></text>
<line x1="330.00" y1="289.50" x2="330.00" y2="222.70" stroke="#231f20" stroke-width="0.8" />
<polygon points="330.00,220.00 331.40,223.00 328.60,223.00" fill="#231f20"/>
<text x="512.00" y="282.00" font-size="7.4" textLength="51" lengthAdjust="spacingAndGlyphs" transform="rotate(-90 512.00 282.00)" stroke="#231f20" stroke-width="0.15">Residual Raji (x10<tspan dy="-2.4" font-size="4.59">5</tspan><tspan dy="2.4">)</tspan></text>
<line x1="500.00" y1="291.50" x2="500.00" y2="223.40" stroke="#231f20" stroke-width="0.8" />
<polygon points="500.00,220.70 501.40,223.70 498.60,223.70" fill="#231f20"/>
<path d="M364.40,216.40 L364.54,217.12 L364.73,218.10 L364.96,219.27 L365.21,220.56 L365.48,221.90 L365.74,223.23 L365.98,224.49 L366.20,225.60 L366.40,226.55 L366.60,227.39 L366.79,228.17 L366.98,228.92 L367.16,229.71 L367.32,230.57 L367.47,231.55 L367.60,232.70 L367.71,234.03 L367.79,235.50 L367.86,237.09 L367.92,238.75 L367.97,240.46 L368.01,242.17 L368.05,243.87 L368.10,245.50 L368.14,247.14 L368.16,248.85 L368.18,250.58 L368.19,252.29 L368.22,253.95 L368.25,255.52 L368.31,256.95 L368.40,258.20 L368.52,259.25 L368.66,260.12 L368.82,260.85 L368.99,261.49 L369.18,262.07 L369.38,262.64 L369.59,263.24 L369.80,263.90 L370.04,264.62 L370.31,265.36 L370.61,266.10 L370.91,266.84 L371.19,267.57 L371.45,268.28 L371.66,268.96 L371.80,269.60 L371.89,270.19 L371.94,270.72 L371.95,271.22 L371.93,271.70 L371.87,272.18 L371.78,272.68 L371.66,273.21 L371.50,273.80 L371.29,274.45 L371.04,275.15 L370.74,275.89 L370.41,276.64 L370.06,277.40 L369.70,278.14 L369.34,278.84 L369.00,279.50 L368.65,280.11 L368.29,280.68 L367.91,281.22 L367.53,281.74 L367.16,282.26 L366.81,282.76 L366.49,283.28 L366.20,283.80 L365.95,284.30 L365.73,284.76 L365.53,285.19 L365.35,285.64 L365.19,286.11 L365.05,286.65 L364.92,287.27 L364.80,288.00 L364.70,288.91 L364.62,290.02 L364.56,291.25 L364.51,292.51 L364.48,293.75 L364.45,294.87 L364.42,295.81 L364.40,296.50 L363.40,296.50 L363.38,295.81 L363.35,294.87 L363.32,293.75 L363.29,292.51 L363.24,291.25 L363.18,290.02 L363.10,288.91 L363.00,288.00 L362.88,287.27 L362.75,286.65 L362.61,286.11 L362.45,285.64 L362.27,285.19 L362.07,284.76 L361.85,284.30 L361.60,283.80 L361.31,283.28 L360.99,282.76 L360.64,282.26 L360.27,281.74 L359.89,281.22 L359.51,280.68 L359.15,280.11 L358.80,279.50 L358.46,278.84 L358.10,278.14 L357.74,277.40 L357.39,276.64 L357.06,275.89 L356.76,275.15 L356.51,274.45 L356.30,273.80 L356.14,273.21 L356.02,272.68 L355.93,272.18 L355.87,271.70 L355.85,271.22 L355.86,270.72 L355.91,270.19 L356.00,269.60 L356.14,268.96 L356.35,268.28 L356.61,267.57 L356.89,266.84 L357.19,266.10 L357.49,265.36 L357.76,264.62 L358.00,263.90 L358.21,263.24 L358.42,262.64 L358.62,262.07 L358.81,261.49 L358.98,260.85 L359.14,260.12 L359.28,259.25 L359.40,258.20 L359.49,256.95 L359.55,255.52 L359.58,253.95 L359.61,252.29 L359.62,250.58 L359.64,248.85 L359.66,247.14 L359.70,245.50 L359.75,243.87 L359.79,242.17 L359.83,240.46 L359.88,238.75 L359.94,237.09 L360.01,235.50 L360.09,234.03 L360.20,232.70 L360.33,231.55 L360.48,230.57 L360.64,229.71 L360.82,228.92 L361.01,228.17 L361.20,227.39 L361.40,226.55 L361.60,225.60 L361.82,224.49 L362.06,223.23 L362.32,221.90 L362.59,220.56 L362.84,219.27 L363.07,218.10 L363.26,217.12 L363.40,216.40 Z" fill="#f2c4b4" stroke="#e8a898" stroke-width="0.45" stroke-linejoin="round"/>
<line x1="359.90" y1="260.80" x2="367.70" y2="260.80" stroke="#6a3a30" stroke-width="0.7" stroke-dasharray="1.8 1.2"/>
<line x1="358.50" y1="272.10" x2="369.10" y2="272.10" stroke="#6a3a30" stroke-width="0.7" stroke-dasharray="1.8 1.2"/>
<path d="M391.10,267.90 L391.16,268.27 L391.23,268.78 L391.31,269.38 L391.41,270.05 L391.53,270.74 L391.69,271.42 L391.87,272.05 L392.10,272.60 L392.38,273.07 L392.71,273.51 L393.09,273.91 L393.49,274.30 L393.90,274.67 L394.32,275.04 L394.72,275.42 L395.10,275.80 L395.49,276.19 L395.91,276.56 L396.34,276.93 L396.77,277.30 L397.16,277.68 L397.49,278.06 L397.75,278.47 L397.90,278.90 L397.94,279.36 L397.88,279.84 L397.74,280.34 L397.55,280.85 L397.32,281.37 L397.07,281.89 L396.82,282.40 L396.60,282.90 L396.38,283.39 L396.15,283.88 L395.90,284.37 L395.64,284.85 L395.38,285.33 L395.12,285.82 L394.85,286.31 L394.60,286.80 L394.33,287.30 L394.02,287.80 L393.70,288.30 L393.38,288.80 L393.09,289.30 L392.85,289.80 L392.68,290.30 L392.60,290.80 L392.63,291.30 L392.75,291.80 L392.95,292.30 L393.19,292.80 L393.46,293.29 L393.71,293.78 L393.94,294.25 L394.10,294.70 L394.22,295.13 L394.34,295.55 L394.45,295.96 L394.54,296.35 L394.60,296.74 L394.64,297.12 L394.64,297.51 L394.60,297.90 L394.51,298.29 L394.37,298.68 L394.19,299.07 L393.99,299.46 L393.77,299.85 L393.54,300.23 L393.31,300.62 L393.10,301.00 L392.89,301.40 L392.65,301.83 L392.40,302.26 L392.16,302.69 L391.92,303.10 L391.71,303.46 L391.53,303.77 L391.40,304.00 L389.80,304.00 L389.67,303.77 L389.49,303.46 L389.28,303.10 L389.04,302.69 L388.80,302.26 L388.55,301.83 L388.31,301.40 L388.10,301.00 L387.89,300.62 L387.66,300.23 L387.43,299.85 L387.21,299.46 L387.01,299.07 L386.83,298.68 L386.69,298.29 L386.60,297.90 L386.56,297.51 L386.56,297.12 L386.60,296.74 L386.66,296.35 L386.75,295.96 L386.86,295.55 L386.98,295.13 L387.10,294.70 L387.26,294.25 L387.49,293.78 L387.74,293.29 L388.01,292.80 L388.25,292.30 L388.45,291.80 L388.57,291.30 L388.60,290.80 L388.52,290.30 L388.35,289.80 L388.11,289.30 L387.82,288.80 L387.50,288.30 L387.18,287.80 L386.87,287.30 L386.60,286.80 L386.35,286.31 L386.08,285.82 L385.82,285.33 L385.56,284.85 L385.30,284.37 L385.05,283.88 L384.82,283.39 L384.60,282.90 L384.38,282.40 L384.13,281.89 L383.88,281.37 L383.65,280.85 L383.46,280.34 L383.32,279.84 L383.26,279.36 L383.30,278.90 L383.45,278.47 L383.71,278.06 L384.04,277.68 L384.43,277.30 L384.86,276.93 L385.29,276.56 L385.71,276.19 L386.10,275.80 L386.48,275.42 L386.88,275.04 L387.30,274.67 L387.71,274.30 L388.11,273.91 L388.49,273.51 L388.82,273.07 L389.10,272.60 L389.33,272.05 L389.51,271.42 L389.67,270.74 L389.79,270.05 L389.89,269.38 L389.97,268.78 L390.04,268.27 L390.10,267.90 Z" fill="#cc0a33" stroke="#8e0b22" stroke-width="0.45" stroke-linejoin="round"/>
<path d="M438.50,272.20 L438.57,272.54 L438.64,273.00 L438.74,273.55 L438.84,274.16 L438.97,274.79 L439.12,275.41 L439.30,275.99 L439.50,276.50 L439.74,276.94 L440.02,277.33 L440.34,277.70 L440.67,278.05 L441.01,278.40 L441.35,278.77 L441.69,279.16 L442.00,279.60 L442.33,280.08 L442.69,280.60 L443.06,281.15 L443.42,281.71 L443.75,282.28 L444.02,282.84 L444.21,283.38 L444.30,283.90 L444.27,284.39 L444.15,284.88 L443.95,285.35 L443.69,285.82 L443.39,286.28 L443.08,286.72 L442.78,287.17 L442.50,287.60 L442.20,288.02 L441.85,288.44 L441.47,288.84 L441.09,289.24 L440.75,289.63 L440.46,290.02 L440.27,290.41 L440.20,290.80 L440.27,291.19 L440.46,291.57 L440.74,291.94 L441.08,292.32 L441.46,292.70 L441.84,293.09 L442.20,293.48 L442.50,293.90 L442.78,294.34 L443.07,294.79 L443.36,295.27 L443.64,295.74 L443.91,296.22 L444.15,296.70 L444.35,297.16 L444.50,297.60 L444.60,298.02 L444.66,298.43 L444.69,298.83 L444.69,299.22 L444.66,299.61 L444.62,300.00 L444.56,300.39 L444.50,300.80 L444.42,301.24 L444.30,301.72 L444.15,302.21 L444.00,302.70 L443.85,303.17 L443.70,303.58 L443.58,303.94 L443.50,304.20 L432.50,304.20 L432.42,303.94 L432.30,303.58 L432.15,303.17 L432.00,302.70 L431.85,302.21 L431.70,301.72 L431.58,301.24 L431.50,300.80 L431.44,300.39 L431.38,300.00 L431.34,299.61 L431.31,299.22 L431.31,298.83 L431.34,298.43 L431.40,298.02 L431.50,297.60 L431.65,297.16 L431.85,296.70 L432.09,296.22 L432.36,295.74 L432.64,295.27 L432.93,294.79 L433.22,294.34 L433.50,293.90 L433.80,293.48 L434.16,293.09 L434.54,292.70 L434.92,292.32 L435.26,291.94 L435.54,291.57 L435.73,291.19 L435.80,290.80 L435.73,290.41 L435.54,290.02 L435.25,289.63 L434.91,289.24 L434.53,288.84 L434.15,288.44 L433.80,288.02 L433.50,287.60 L433.22,287.17 L432.92,286.72 L432.61,286.28 L432.31,285.82 L432.05,285.35 L431.85,284.88 L431.73,284.39 L431.70,283.90 L431.79,283.38 L431.98,282.84 L432.25,282.28 L432.58,281.71 L432.94,281.15 L433.31,280.60 L433.67,280.08 L434.00,279.60 L434.31,279.16 L434.65,278.77 L434.99,278.40 L435.33,278.05 L435.66,277.70 L435.98,277.33 L436.26,276.94 L436.50,276.50 L436.70,275.99 L436.88,275.41 L437.03,274.79 L437.16,274.16 L437.26,273.55 L437.36,273.00 L437.43,272.54 L437.50,272.20 Z" fill="#f2c4b4" stroke="#e8a898" stroke-width="0.45" stroke-linejoin="round"/>
<line x1="436.00" y1="291.30" x2="440.00" y2="291.30" stroke="#6a3a30" stroke-width="0.7" stroke-dasharray="1.8 1.2"/>
<line x1="433.00" y1="299.20" x2="443.00" y2="299.20" stroke="#6a3a30" stroke-width="0.7" stroke-dasharray="1.8 1.2"/>
<path d="M465.70,284.40 L465.74,284.65 L465.79,285.00 L465.84,285.41 L465.91,285.87 L465.99,286.34 L466.10,286.80 L466.23,287.23 L466.40,287.60 L466.62,287.92 L466.89,288.20 L467.20,288.47 L467.53,288.72 L467.86,288.96 L468.18,289.20 L468.46,289.45 L468.70,289.70 L468.90,289.96 L469.08,290.21 L469.24,290.46 L469.38,290.71 L469.49,290.97 L469.59,291.23 L469.66,291.51 L469.70,291.80 L469.70,292.11 L469.63,292.45 L469.53,292.79 L469.42,293.15 L469.31,293.51 L469.22,293.85 L469.18,294.19 L469.20,294.50 L469.29,294.79 L469.43,295.06 L469.62,295.31 L469.82,295.56 L470.05,295.80 L470.28,296.05 L470.50,296.32 L470.70,296.60 L470.89,296.90 L471.10,297.21 L471.31,297.53 L471.51,297.86 L471.71,298.20 L471.90,298.53 L472.06,298.87 L472.20,299.20 L472.32,299.54 L472.44,299.88 L472.55,300.22 L472.64,300.57 L472.70,300.91 L472.74,301.25 L472.74,301.58 L472.70,301.90 L472.60,302.22 L472.43,302.56 L472.22,302.89 L471.98,303.22 L471.74,303.52 L471.52,303.80 L471.33,304.03 L471.20,304.20 L459.20,304.20 L459.07,304.03 L458.88,303.80 L458.66,303.52 L458.42,303.22 L458.18,302.89 L457.97,302.56 L457.80,302.22 L457.70,301.90 L457.66,301.58 L457.66,301.25 L457.70,300.91 L457.76,300.57 L457.85,300.22 L457.96,299.88 L458.08,299.54 L458.20,299.20 L458.34,298.87 L458.50,298.53 L458.69,298.20 L458.89,297.86 L459.09,297.53 L459.30,297.21 L459.51,296.90 L459.70,296.60 L459.90,296.32 L460.12,296.05 L460.35,295.80 L460.57,295.56 L460.78,295.31 L460.97,295.06 L461.11,294.79 L461.20,294.50 L461.22,294.19 L461.18,293.85 L461.09,293.51 L460.98,293.15 L460.87,292.79 L460.77,292.45 L460.70,292.11 L460.70,291.80 L460.74,291.51 L460.81,291.23 L460.91,290.97 L461.02,290.71 L461.16,290.46 L461.32,290.21 L461.50,289.96 L461.70,289.70 L461.94,289.45 L462.22,289.20 L462.54,288.96 L462.87,288.72 L463.20,288.47 L463.51,288.20 L463.78,287.92 L464.00,287.60 L464.17,287.23 L464.30,286.80 L464.41,286.34 L464.49,285.87 L464.56,285.41 L464.61,285.00 L464.66,284.65 L464.70,284.40 Z" fill="#cc0a33" stroke="#8e0b22" stroke-width="0.45" stroke-linejoin="round"/>
<circle cx="363.90" cy="238.80" r="2.45" fill="#111"/>
<circle cx="363.90" cy="253.30" r="2.45" fill="#111"/>
<circle cx="370.20" cy="269.30" r="2.45" fill="#111"/>
<circle cx="358.00" cy="273.80" r="2.45" fill="#111"/>
<circle cx="384.30" cy="279.70" r="2.45" fill="#111"/>
<circle cx="397.10" cy="279.70" r="2.45" fill="#111"/>
<circle cx="390.60" cy="287.20" r="2.45" fill="#111"/>
<circle cx="390.60" cy="297.70" r="2.45" fill="#111"/>
<circle cx="431.60" cy="284.40" r="2.45" fill="#111"/>
<circle cx="444.40" cy="283.90" r="2.45" fill="#111"/>
<circle cx="431.60" cy="300.30" r="2.45" fill="#111"/>
<circle cx="444.40" cy="298.00" r="2.45" fill="#111"/>
<circle cx="458.70" cy="301.30" r="2.45" fill="#111"/>
<circle cx="465.20" cy="296.60" r="2.45" fill="#111"/>
<circle cx="471.60" cy="299.70" r="2.45" fill="#111"/>
<circle cx="465.20" cy="290.80" r="2.45" fill="#111"/>
<line x1="364.20" y1="210.80" x2="389.80" y2="210.80" stroke="#666" stroke-width="1.4" />
<text x="377.00" y="208.60" font-size="5" text-anchor="middle" >*</text>
<text x="302.60" y="365.40" font-size="10.5" font-weight="bold" >F</text>
<line x1="344.30" y1="376.70" x2="344.30" y2="473.20" stroke="#231f20" stroke-width="1.15" />
<line x1="341.70" y1="379.15" x2="344.30" y2="379.15" stroke="#231f20" stroke-width="0.8" />
<text x="339.00" y="381.53" font-size="6.6" text-anchor="end" >3</text>
<line x1="341.70" y1="410.50" x2="344.30" y2="410.50" stroke="#231f20" stroke-width="0.8" />
<text x="339.00" y="412.88" font-size="6.6" text-anchor="end" >2</text>
<line x1="341.70" y1="441.85" x2="344.30" y2="441.85" stroke="#231f20" stroke-width="0.8" />
<text x="339.00" y="444.23" font-size="6.6" text-anchor="end" >1</text>
<line x1="341.70" y1="473.20" x2="344.30" y2="473.20" stroke="#231f20" stroke-width="0.8" />
<text x="339.00" y="475.58" font-size="6.6" text-anchor="end" >0</text>
<line x1="344.30" y1="473.20" x2="407.40" y2="473.20" stroke="#231f20" stroke-width="1.15" />
<line x1="419.60" y1="473.20" x2="481.90" y2="473.20" stroke="#231f20" stroke-width="1.15" />
<line x1="481.90" y1="376.60" x2="481.90" y2="473.10" stroke="#231f20" stroke-width="1.15" />
<line x1="481.90" y1="378.70" x2="484.50" y2="378.70" stroke="#231f20" stroke-width="0.8" />
<text x="488.20" y="381.08" font-size="6.6" >8</text>
<line x1="481.90" y1="402.30" x2="484.50" y2="402.30" stroke="#231f20" stroke-width="0.8" />
<text x="488.20" y="404.68" font-size="6.6" >6</text>
<line x1="481.90" y1="425.90" x2="484.50" y2="425.90" stroke="#231f20" stroke-width="0.8" />
<text x="488.20" y="428.28" font-size="6.6" >4</text>
<line x1="481.90" y1="449.50" x2="484.50" y2="449.50" stroke="#231f20" stroke-width="0.8" />
<text x="488.20" y="451.88" font-size="6.6" >2</text>
<line x1="481.90" y1="473.10" x2="484.50" y2="473.10" stroke="#231f20" stroke-width="0.8" />
<text x="488.20" y="475.48" font-size="6.6" >0</text>
<text x="323.30" y="456.30" font-size="7.4" textLength="60.6" lengthAdjust="spacingAndGlyphs" transform="rotate(-90 323.30 456.30)" stroke="#231f20" stroke-width="0.15">CAR-T expansion (x10<tspan dy="-2.4" font-size="4.59">7</tspan><tspan dy="2.4">)</tspan></text>
<line x1="328.40" y1="460.00" x2="328.40" y2="391.30" stroke="#231f20" stroke-width="0.8" />
<polygon points="328.40,388.60 329.80,391.60 327.00,391.60" fill="#231f20"/>
<text x="511.30" y="450.00" font-size="7.4" textLength="51" lengthAdjust="spacingAndGlyphs" transform="rotate(-90 511.30 450.00)" stroke="#231f20" stroke-width="0.15">Residual Raji (x10<tspan dy="-2.4" font-size="4.59">6</tspan><tspan dy="2.4">)</tspan></text>
<line x1="499.20" y1="460.40" x2="499.20" y2="391.50" stroke="#231f20" stroke-width="0.8" />
<polygon points="499.20,388.80 500.60,391.80 497.80,391.80" fill="#231f20"/>
<path d="M363.50,402.60 L363.55,403.20 L363.60,404.00 L363.66,404.97 L363.73,406.03 L363.83,407.13 L363.95,408.22 L364.10,409.23 L364.30,410.10 L364.55,410.85 L364.84,411.55 L365.17,412.19 L365.53,412.81 L365.90,413.40 L366.28,413.99 L366.65,414.58 L367.00,415.20 L367.36,415.83 L367.76,416.45 L368.17,417.08 L368.57,417.70 L368.95,418.32 L369.28,418.95 L369.53,419.57 L369.70,420.20 L369.77,420.84 L369.76,421.50 L369.69,422.17 L369.56,422.83 L369.40,423.49 L369.21,424.12 L369.00,424.73 L368.80,425.30 L368.57,425.83 L368.29,426.34 L367.97,426.81 L367.64,427.27 L367.31,427.71 L367.00,428.14 L366.73,428.57 L366.50,429.00 L366.31,429.42 L366.13,429.81 L365.98,430.18 L365.84,430.56 L365.74,430.93 L365.68,431.33 L365.67,431.75 L365.70,432.20 L365.80,432.68 L365.96,433.19 L366.18,433.70 L366.43,434.24 L366.70,434.80 L366.98,435.38 L367.25,435.98 L367.50,436.60 L367.76,437.26 L368.06,437.96 L368.37,438.70 L368.68,439.45 L368.96,440.20 L369.21,440.94 L369.39,441.64 L369.50,442.30 L369.53,442.91 L369.50,443.48 L369.41,444.02 L369.28,444.54 L369.12,445.06 L368.93,445.59 L368.72,446.13 L368.50,446.70 L368.25,447.30 L367.96,447.91 L367.64,448.53 L367.30,449.16 L366.95,449.79 L366.61,450.43 L366.29,451.07 L366.00,451.70 L365.73,452.32 L365.48,452.93 L365.23,453.53 L364.99,454.13 L364.76,454.75 L364.56,455.40 L364.37,456.08 L364.20,456.80 L364.06,457.62 L363.93,458.56 L363.83,459.56 L363.74,460.57 L363.66,461.54 L363.60,462.42 L363.55,463.16 L363.50,463.70 L362.50,463.70 L362.45,463.16 L362.40,462.42 L362.34,461.54 L362.26,460.57 L362.17,459.56 L362.07,458.56 L361.94,457.62 L361.80,456.80 L361.63,456.08 L361.44,455.40 L361.24,454.75 L361.01,454.13 L360.77,453.53 L360.52,452.93 L360.27,452.32 L360.00,451.70 L359.71,451.07 L359.39,450.43 L359.05,449.79 L358.70,449.16 L358.36,448.53 L358.04,447.91 L357.75,447.30 L357.50,446.70 L357.28,446.13 L357.07,445.59 L356.88,445.06 L356.72,444.54 L356.59,444.02 L356.50,443.48 L356.47,442.91 L356.50,442.30 L356.61,441.64 L356.79,440.94 L357.04,440.20 L357.32,439.45 L357.63,438.70 L357.94,437.96 L358.24,437.26 L358.50,436.60 L358.75,435.98 L359.02,435.38 L359.30,434.80 L359.57,434.24 L359.82,433.70 L360.04,433.19 L360.20,432.68 L360.30,432.20 L360.33,431.75 L360.32,431.33 L360.26,430.93 L360.16,430.56 L360.02,430.18 L359.87,429.81 L359.69,429.42 L359.50,429.00 L359.27,428.57 L359.00,428.14 L358.69,427.71 L358.36,427.27 L358.03,426.81 L357.71,426.34 L357.43,425.83 L357.20,425.30 L357.00,424.73 L356.79,424.12 L356.60,423.49 L356.44,422.83 L356.31,422.17 L356.24,421.50 L356.23,420.84 L356.30,420.20 L356.47,419.57 L356.72,418.95 L357.05,418.32 L357.43,417.70 L357.83,417.08 L358.24,416.45 L358.64,415.83 L359.00,415.20 L359.35,414.58 L359.72,413.99 L360.10,413.40 L360.47,412.81 L360.83,412.19 L361.16,411.55 L361.45,410.85 L361.70,410.10 L361.90,409.23 L362.05,408.22 L362.17,407.13 L362.27,406.03 L362.34,404.97 L362.40,404.00 L362.45,403.20 L362.50,402.60 Z" fill="#f2c4b4" stroke="#e8a898" stroke-width="0.45" stroke-linejoin="round"/>
<line x1="357.60" y1="421.10" x2="369.00" y2="421.10" stroke="#6a3a30" stroke-width="0.7" stroke-dasharray="1.8 1.2"/>
<line x1="359.90" y1="432.50" x2="365.80" y2="432.50" stroke="#6a3a30" stroke-width="0.7" stroke-dasharray="1.8 1.2"/>
<line x1="355.70" y1="444.20" x2="370.20" y2="444.20" stroke="#6a3a30" stroke-width="0.7" stroke-dasharray="1.8 1.2"/>
<path d="M389.60,413.90 L389.75,414.39 L389.94,415.06 L390.16,415.85 L390.41,416.73 L390.69,417.65 L390.98,418.56 L391.29,419.43 L391.60,420.20 L391.93,420.90 L392.30,421.56 L392.70,422.20 L393.10,422.83 L393.50,423.45 L393.90,424.06 L394.27,424.68 L394.60,425.30 L394.91,425.92 L395.21,426.53 L395.49,427.13 L395.76,427.73 L396.00,428.33 L396.23,428.96 L396.43,429.61 L396.60,430.30 L396.74,431.03 L396.86,431.78 L396.95,432.57 L397.02,433.37 L397.07,434.18 L397.09,434.99 L397.11,435.80 L397.10,436.60 L397.06,437.39 L396.99,438.18 L396.89,438.96 L396.77,439.75 L396.65,440.54 L396.54,441.32 L396.45,442.11 L396.40,442.90 L396.39,443.69 L396.41,444.47 L396.46,445.26 L396.52,446.05 L396.57,446.84 L396.61,447.62 L396.63,448.41 L396.60,449.20 L396.54,450.00 L396.47,450.80 L396.38,451.62 L396.27,452.43 L396.14,453.23 L395.98,454.01 L395.80,454.77 L395.60,455.50 L395.36,456.20 L395.08,456.86 L394.77,457.50 L394.44,458.13 L394.10,458.75 L393.76,459.36 L393.42,459.98 L393.10,460.60 L392.78,461.24 L392.43,461.89 L392.08,462.54 L391.74,463.18 L391.41,463.82 L391.10,464.44 L390.83,465.03 L390.60,465.60 L390.42,466.14 L390.29,466.66 L390.19,467.16 L390.11,467.64 L390.05,468.10 L390.00,468.55 L389.96,468.98 L389.90,469.40 L389.84,469.82 L389.79,470.24 L389.75,470.65 L389.71,471.04 L389.67,471.40 L389.64,471.72 L389.62,471.99 L389.60,472.20 L388.60,472.20 L388.58,471.99 L388.56,471.72 L388.53,471.40 L388.49,471.04 L388.45,470.65 L388.41,470.24 L388.36,469.82 L388.30,469.40 L388.24,468.98 L388.20,468.55 L388.15,468.10 L388.09,467.64 L388.01,467.16 L387.91,466.66 L387.78,466.14 L387.60,465.60 L387.37,465.03 L387.10,464.44 L386.79,463.82 L386.46,463.18 L386.12,462.54 L385.77,461.89 L385.42,461.24 L385.10,460.60 L384.78,459.98 L384.44,459.36 L384.10,458.75 L383.76,458.13 L383.43,457.50 L383.12,456.86 L382.84,456.20 L382.60,455.50 L382.40,454.77 L382.22,454.01 L382.06,453.23 L381.93,452.43 L381.82,451.62 L381.73,450.80 L381.66,450.00 L381.60,449.20 L381.57,448.41 L381.59,447.62 L381.63,446.84 L381.68,446.05 L381.74,445.26 L381.79,444.47 L381.81,443.69 L381.80,442.90 L381.75,442.11 L381.66,441.32 L381.55,440.54 L381.43,439.75 L381.31,438.96 L381.21,438.18 L381.14,437.39 L381.10,436.60 L381.09,435.80 L381.11,434.99 L381.13,434.18 L381.18,433.37 L381.25,432.57 L381.34,431.78 L381.46,431.03 L381.60,430.30 L381.77,429.61 L381.97,428.96 L382.20,428.33 L382.44,427.73 L382.71,427.13 L382.99,426.53 L383.29,425.92 L383.60,425.30 L383.93,424.68 L384.30,424.06 L384.70,423.45 L385.10,422.83 L385.50,422.20 L385.90,421.56 L386.27,420.90 L386.60,420.20 L386.91,419.43 L387.22,418.56 L387.51,417.65 L387.79,416.73 L388.04,415.85 L388.26,415.06 L388.45,414.39 L388.60,413.90 Z" fill="#cc0a33" stroke="#8e0b22" stroke-width="0.45" stroke-linejoin="round"/>
<path d="M437.70,448.70 L437.76,448.91 L437.84,449.20 L437.94,449.54 L438.05,449.91 L438.16,450.31 L438.28,450.72 L438.39,451.12 L438.50,451.50 L438.61,451.87 L438.73,452.24 L438.86,452.61 L438.98,452.99 L439.10,453.37 L439.19,453.75 L439.26,454.12 L439.30,454.50 L439.30,454.87 L439.28,455.23 L439.23,455.59 L439.17,455.95 L439.09,456.32 L439.00,456.69 L438.90,457.09 L438.80,457.50 L438.68,457.96 L438.54,458.48 L438.38,459.03 L438.22,459.59 L438.06,460.12 L437.91,460.60 L437.79,461.00 L437.70,461.30 L436.90,461.30 L436.81,461.00 L436.69,460.60 L436.54,460.12 L436.38,459.59 L436.22,459.03 L436.06,458.48 L435.92,457.96 L435.80,457.50 L435.70,457.09 L435.60,456.69 L435.51,456.32 L435.43,455.95 L435.37,455.59 L435.32,455.23 L435.30,454.87 L435.30,454.50 L435.34,454.12 L435.41,453.75 L435.50,453.37 L435.62,452.99 L435.74,452.61 L435.87,452.24 L435.99,451.87 L436.10,451.50 L436.21,451.12 L436.32,450.72 L436.44,450.31 L436.55,449.91 L436.66,449.54 L436.76,449.20 L436.84,448.91 L436.90,448.70 Z" fill="#f2c4b4" stroke="#e8a898" stroke-width="0.45" stroke-linejoin="round"/>
<path d="M464.20,454.40 L464.41,454.59 L464.70,454.84 L465.04,455.13 L465.41,455.46 L465.80,455.82 L466.17,456.20 L466.51,456.60 L466.80,457.00 L467.05,457.42 L467.30,457.88 L467.54,458.36 L467.75,458.86 L467.93,459.37 L468.07,459.86 L468.17,460.35 L468.20,460.80 L468.17,461.23 L468.07,461.64 L467.93,462.05 L467.75,462.44 L467.54,462.83 L467.30,463.22 L467.05,463.61 L466.80,464.00 L466.51,464.41 L466.17,464.85 L465.80,465.31 L465.41,465.75 L465.04,466.17 L464.70,466.55 L464.41,466.86 L464.20,467.10 L463.40,467.10 L463.19,466.86 L462.90,466.55 L462.56,466.17 L462.19,465.75 L461.80,465.31 L461.43,464.85 L461.09,464.41 L460.80,464.00 L460.55,463.61 L460.30,463.22 L460.06,462.83 L459.85,462.44 L459.67,462.05 L459.53,461.64 L459.43,461.23 L459.40,460.80 L459.43,460.35 L459.53,459.86 L459.67,459.37 L459.85,458.86 L460.06,458.36 L460.30,457.88 L460.55,457.42 L460.80,457.00 L461.09,456.60 L461.43,456.20 L461.80,455.82 L462.19,455.46 L462.56,455.13 L462.90,454.84 L463.19,454.59 L463.40,454.40 Z" fill="#cc0a33" stroke="#8e0b22" stroke-width="0.45" stroke-linejoin="round"/>
<circle cx="369.00" cy="419.60" r="2.4" fill="#111"/>
<circle cx="356.60" cy="424.60" r="2.4" fill="#111"/>
<circle cx="363.00" cy="440.00" r="2.4" fill="#111"/>
<circle cx="363.00" cy="446.10" r="2.4" fill="#111"/>
<circle cx="389.10" cy="430.90" r="2.4" fill="#111"/>
<circle cx="389.10" cy="438.90" r="2.4" fill="#111"/>
<circle cx="389.10" cy="448.00" r="2.4" fill="#111"/>
<circle cx="389.10" cy="457.40" r="2.4" fill="#111"/>
<circle cx="430.60" cy="453.00" r="2.4" fill="#111"/>
<circle cx="430.60" cy="458.80" r="2.4" fill="#111"/>
<circle cx="438.50" cy="455.30" r="2.4" fill="#111"/>
<circle cx="443.30" cy="453.50" r="2.4" fill="#111"/>
<circle cx="457.50" cy="457.10" r="2.4" fill="#111"/>
<circle cx="457.50" cy="463.70" r="2.4" fill="#111"/>
<circle cx="463.80" cy="461.00" r="2.4" fill="#111"/>
<circle cx="470.20" cy="461.30" r="2.4" fill="#111"/>
<text x="6.80" y="521.30" font-size="10.5" font-weight="bold" >G</text>
<rect x="87.70" y="573.20" width="14.80" height="43.00" fill="#f29100"/>
<rect x="110.50" y="593.60" width="14.80" height="22.60" fill="#0b6651"/>
<line x1="95.10" y1="563.50" x2="95.10" y2="582.50" stroke="#4a4f55" stroke-width="0.9" />
<line x1="92.80" y1="563.50" x2="97.40" y2="563.50" stroke="#4a4f55" stroke-width="0.9" />
<line x1="92.80" y1="582.50" x2="97.40" y2="582.50" stroke="#4a4f55" stroke-width="0.9" />
<line x1="117.90" y1="588.30" x2="117.90" y2="599.00" stroke="#4a4f55" stroke-width="0.9" />
<line x1="115.60" y1="588.30" x2="120.20" y2="588.30" stroke="#4a4f55" stroke-width="0.9" />
<line x1="115.60" y1="599.00" x2="120.20" y2="599.00" stroke="#4a4f55" stroke-width="0.9" />
<line x1="79.90" y1="532.00" x2="79.90" y2="616.20" stroke="#231f20" stroke-width="1.15" />
<line x1="76.70" y1="534.24" x2="79.90" y2="534.24" stroke="#231f20" stroke-width="0.8" />
<text x="74.00" y="536.62" font-size="6.6" text-anchor="end" >60</text>
<line x1="76.70" y1="561.56" x2="79.90" y2="561.56" stroke="#231f20" stroke-width="0.8" />
<text x="74.00" y="563.94" font-size="6.6" text-anchor="end" >40</text>
<line x1="76.70" y1="588.88" x2="79.90" y2="588.88" stroke="#231f20" stroke-width="0.8" />
<text x="74.00" y="591.26" font-size="6.6" text-anchor="end" >20</text>
<line x1="76.70" y1="616.20" x2="79.90" y2="616.20" stroke="#231f20" stroke-width="0.8" />
<text x="74.00" y="618.58" font-size="6.6" text-anchor="end" >0</text>
<line x1="79.90" y1="616.20" x2="133.50" y2="616.20" stroke="#231f20" stroke-width="1.15" />
<circle cx="89.70" cy="566.80" r="2.35" fill="#111"/>
<circle cx="100.50" cy="562.80" r="2.35" fill="#111"/>
<circle cx="100.50" cy="578.90" r="2.35" fill="#111"/>
<circle cx="89.70" cy="582.60" r="2.35" fill="#111"/>
<circle cx="112.80" cy="591.60" r="2.35" fill="#111"/>
<circle cx="123.50" cy="587.60" r="2.35" fill="#111"/>
<circle cx="123.50" cy="593.60" r="2.35" fill="#111"/>
<circle cx="117.90" cy="599.00" r="2.35" fill="#111"/>
<line x1="94.80" y1="553.00" x2="117.90" y2="553.00" stroke="#666" stroke-width="1.4" />
<text x="106.35" y="550.80" font-size="5" text-anchor="middle" >**</text>
<text x="61.00" y="613.80" font-size="7.4" textLength="60" lengthAdjust="spacingAndGlyphs" transform="rotate(-90 61.00 613.80)" stroke="#231f20" stroke-width="0.15">% CD40L (out of CD3)</text>
<line x1="59.60" y1="552.50" x2="59.60" y2="536.90" stroke="#231f20" stroke-width="0.8" />
<polygon points="59.60,534.20 61.00,537.20 58.20,537.20" fill="#231f20"/>
<rect x="189.90" y="554.90" width="14.50" height="60.90" fill="#f29100"/>
<rect x="213.10" y="559.20" width="14.10" height="56.60" fill="#0b6651"/>
<line x1="197.10" y1="546.90" x2="197.10" y2="557.00" stroke="#4a4f55" stroke-width="0.9" />
<line x1="194.80" y1="546.90" x2="199.40" y2="546.90" stroke="#4a4f55" stroke-width="0.9" />
<line x1="194.80" y1="557.00" x2="199.40" y2="557.00" stroke="#4a4f55" stroke-width="0.9" />
<line x1="181.40" y1="532.00" x2="181.40" y2="615.80" stroke="#231f20" stroke-width="1.15" />
<line x1="178.40" y1="533.80" x2="181.40" y2="533.80" stroke="#231f20" stroke-width="0.8" />
<text x="175.80" y="536.18" font-size="6.6" text-anchor="end" >1000</text>
<line x1="178.40" y1="550.20" x2="181.40" y2="550.20" stroke="#231f20" stroke-width="0.8" />
<text x="175.80" y="552.58" font-size="6.6" text-anchor="end" >800</text>
<line x1="178.40" y1="566.60" x2="181.40" y2="566.60" stroke="#231f20" stroke-width="0.8" />
<text x="175.80" y="568.98" font-size="6.6" text-anchor="end" >600</text>
<line x1="178.40" y1="583.00" x2="181.40" y2="583.00" stroke="#231f20" stroke-width="0.8" />
<text x="175.80" y="585.38" font-size="6.6" text-anchor="end" >400</text>
<line x1="178.40" y1="599.40" x2="181.40" y2="599.40" stroke="#231f20" stroke-width="0.8" />
<text x="175.80" y="601.78" font-size="6.6" text-anchor="end" >200</text>
<line x1="178.40" y1="615.80" x2="181.40" y2="615.80" stroke="#231f20" stroke-width="0.8" />
<text x="175.80" y="618.18" font-size="6.6" text-anchor="end" >0</text>
<line x1="181.40" y1="615.80" x2="235.20" y2="615.80" stroke="#231f20" stroke-width="1.15" />
<circle cx="197.10" cy="545.40" r="2.35" fill="#111"/>
<circle cx="191.60" cy="551.00" r="2.35" fill="#111"/>
<circle cx="191.60" cy="556.30" r="2.35" fill="#111"/>
<circle cx="202.10" cy="554.40" r="2.35" fill="#111"/>
<circle cx="214.90" cy="560.70" r="2.35" fill="#111"/>
<circle cx="218.20" cy="556.00" r="2.35" fill="#111"/>
<circle cx="221.80" cy="560.00" r="2.35" fill="#111"/>
<circle cx="225.50" cy="557.10" r="2.35" fill="#111"/>
<line x1="196.70" y1="538.50" x2="220.00" y2="538.50" stroke="#666" stroke-width="1.4" />
<text x="208.35" y="536.30" font-size="5" text-anchor="middle" >*</text>
<text x="156.60" y="610.00" font-size="7.4" textLength="51.2" lengthAdjust="spacingAndGlyphs" transform="rotate(-90 156.60 610.00)" stroke="#231f20" stroke-width="0.15">MFI CD40L (on CD3)</text>
<line x1="153.80" y1="552.50" x2="153.80" y2="536.50" stroke="#231f20" stroke-width="0.8" />
<polygon points="153.80,533.80 155.20,536.80 152.40,536.80" fill="#231f20"/>
<text x="251.20" y="522.00" font-size="10.5" font-weight="bold" >H</text>
<rect x="300.70" y="581.10" width="10.10" height="34.80" fill="#f29100"/>
<rect x="316.80" y="577.30" width="9.90" height="38.60" fill="#0b6651"/>
<rect x="344.20" y="582.20" width="9.80" height="33.70" fill="#f29100"/>
<rect x="360.10" y="573.80" width="9.90" height="42.10" fill="#0b6651"/>
<line x1="305.50" y1="577.00" x2="305.50" y2="586.00" stroke="#4a4f55" stroke-width="0.9" />
<line x1="303.70" y1="577.00" x2="307.30" y2="577.00" stroke="#4a4f55" stroke-width="0.9" />
<line x1="303.70" y1="586.00" x2="307.30" y2="586.00" stroke="#4a4f55" stroke-width="0.9" />
<line x1="321.70" y1="575.50" x2="321.70" y2="579.00" stroke="#4a4f55" stroke-width="0.9" />
<line x1="319.90" y1="575.50" x2="323.50" y2="575.50" stroke="#4a4f55" stroke-width="0.9" />
<line x1="319.90" y1="579.00" x2="323.50" y2="579.00" stroke="#4a4f55" stroke-width="0.9" />
<line x1="349.10" y1="573.00" x2="349.10" y2="589.00" stroke="#4a4f55" stroke-width="0.9" />
<line x1="347.30" y1="573.00" x2="350.90" y2="573.00" stroke="#4a4f55" stroke-width="0.9" />
<line x1="347.30" y1="589.00" x2="350.90" y2="589.00" stroke="#4a4f55" stroke-width="0.9" />
<line x1="365.00" y1="563.50" x2="365.00" y2="580.00" stroke="#4a4f55" stroke-width="0.9" />
<line x1="363.20" y1="563.50" x2="366.80" y2="563.50" stroke="#4a4f55" stroke-width="0.9" />
<line x1="363.20" y1="580.00" x2="366.80" y2="580.00" stroke="#4a4f55" stroke-width="0.9" />
<line x1="293.80" y1="531.70" x2="293.80" y2="615.90" stroke="#231f20" stroke-width="1.15" />
<line x1="291.80" y1="534.10" x2="293.80" y2="534.10" stroke="#231f20" stroke-width="0.8" />
<text x="289.40" y="536.48" font-size="6.6" text-anchor="end" >100</text>
<line x1="291.80" y1="550.46" x2="293.80" y2="550.46" stroke="#231f20" stroke-width="0.8" />
<text x="289.40" y="552.84" font-size="6.6" text-anchor="end" >80</text>
<line x1="291.80" y1="566.82" x2="293.80" y2="566.82" stroke="#231f20" stroke-width="0.8" />
<text x="289.40" y="569.20" font-size="6.6" text-anchor="end" >60</text>
<line x1="291.80" y1="583.18" x2="293.80" y2="583.18" stroke="#231f20" stroke-width="0.8" />
<text x="289.40" y="585.56" font-size="6.6" text-anchor="end" >40</text>
<line x1="291.80" y1="599.54" x2="293.80" y2="599.54" stroke="#231f20" stroke-width="0.8" />
<text x="289.40" y="601.92" font-size="6.6" text-anchor="end" >20</text>
<line x1="291.80" y1="615.90" x2="293.80" y2="615.90" stroke="#231f20" stroke-width="0.8" />
<text x="289.40" y="618.28" font-size="6.6" text-anchor="end" >0</text>
<line x1="293.80" y1="615.90" x2="375.70" y2="615.90" stroke="#231f20" stroke-width="1.15" />
<line x1="313.40" y1="615.90" x2="313.40" y2="618.10" stroke="#231f20" stroke-width="0.8" />
<line x1="356.60" y1="615.90" x2="356.60" y2="618.10" stroke="#231f20" stroke-width="0.8" />
<text x="313.40" y="627.70" font-size="6.9" text-anchor="middle" textLength="13.0" lengthAdjust="spacingAndGlyphs" >CD4</text>
<text x="356.60" y="627.70" font-size="6.9" text-anchor="middle" textLength="13.0" lengthAdjust="spacingAndGlyphs" >CD8</text>
<circle cx="302.10" cy="576.40" r="2.35" fill="#111"/>
<circle cx="305.20" cy="581.10" r="2.35" fill="#111"/>
<circle cx="308.70" cy="580.80" r="2.35" fill="#111"/>
<circle cx="305.20" cy="586.00" r="2.35" fill="#111"/>
<circle cx="319.10" cy="578.70" r="2.35" fill="#111"/>
<circle cx="320.80" cy="575.20" r="2.35" fill="#111"/>
<circle cx="323.20" cy="576.80" r="2.35" fill="#111"/>
<circle cx="325.50" cy="576.80" r="2.35" fill="#111"/>
<circle cx="349.20" cy="572.60" r="2.35" fill="#111"/>
<circle cx="345.70" cy="579.90" r="2.35" fill="#111"/>
<circle cx="351.80" cy="583.00" r="2.35" fill="#111"/>
<circle cx="348.80" cy="589.80" r="2.35" fill="#111"/>
<circle cx="364.80" cy="563.10" r="2.35" fill="#111"/>
<circle cx="364.80" cy="568.30" r="2.35" fill="#111"/>
<circle cx="361.50" cy="581.10" r="2.35" fill="#111"/>
<circle cx="368.20" cy="580.80" r="2.35" fill="#111"/>
<text x="270.30" y="583.60" font-size="7.4" textLength="20.0" lengthAdjust="spacingAndGlyphs" transform="rotate(-90 270.30 583.60)" stroke="#231f20" stroke-width="0.15">% TIM3</text>
<line x1="274.70" y1="611.00" x2="274.70" y2="538.20" stroke="#231f20" stroke-width="0.8" />
<polygon points="274.70,535.50 276.10,538.50 273.30,538.50" fill="#231f20"/>
<rect x="388" y="565" width="12.2" height="5.8" fill="#f29100"/>
<rect x="388" y="577.1" width="12.2" height="5.4" fill="#0b6651"/>
<text x="403.60" y="570.50" font-size="6.9" textLength="36.2" lengthAdjust="spacingAndGlyphs" >Without ECP</text>
<text x="403.60" y="582.10" font-size="6.9" textLength="53.6" lengthAdjust="spacingAndGlyphs" >With ECP (2 J/cm<tspan dy="-2.76" font-size="4.69">2</tspan><tspan dy="2.76">)</tspan></text>
<rect x="0" y="0" width="520" height="1" fill="#6e6e6e"/>
<rect x="0" y="0" width="1" height="634" fill="#5a5a5a"/>
<rect x="519" y="0" width="1" height="634" fill="#555"/>
<rect x="0" y="633" width="520" height="1" fill="#4a4a4a"/>
</svg>
</body></html>
